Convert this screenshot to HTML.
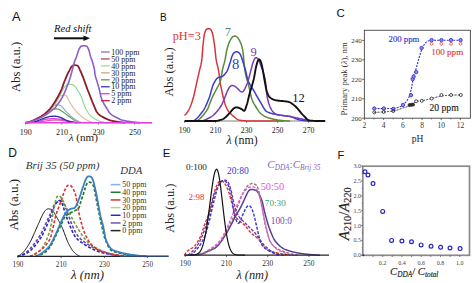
<!DOCTYPE html>
<html><head><meta charset="utf-8"><style>
html,body{margin:0;padding:0;background:#fff;}
svg{display:block;}
text{stroke-width:0;}
</style></head><body>
<svg width="474" height="283" viewBox="0 0 474 283">
<rect width="474" height="283" fill="#fff"/>
<line x1="54" y1="38.3" x2="85" y2="38.3" stroke="#111" stroke-width="2.0"/>
<path d="M83.5 35.6 L90 38.3 L83.5 41 Z" fill="#111"/>
<line x1="25.5" y1="122.7" x2="25.5" y2="124.5" stroke="#444" stroke-width="0.8"/>
<text x="25.7" y="135.1" font-family="Liberation Serif" font-size="8" fill="#222" stroke="#222" text-anchor="middle" font-weight="normal" >190</text>
<line x1="61.9" y1="122.7" x2="61.9" y2="124.5" stroke="#444" stroke-width="0.8"/>
<text x="62.1" y="135.1" font-family="Liberation Serif" font-size="8" fill="#222" stroke="#222" text-anchor="middle" font-weight="normal" >210</text>
<line x1="98.3" y1="122.7" x2="98.3" y2="124.5" stroke="#444" stroke-width="0.8"/>
<text x="98.5" y="135.1" font-family="Liberation Serif" font-size="8" fill="#222" stroke="#222" text-anchor="middle" font-weight="normal" >230</text>
<line x1="134.7" y1="122.7" x2="134.7" y2="124.5" stroke="#444" stroke-width="0.8"/>
<text x="134.89999999999998" y="135.1" font-family="Liberation Serif" font-size="8" fill="#222" stroke="#222" text-anchor="middle" font-weight="normal" >250</text>
<path d="M25.50 122.70 L26.00 122.69 L26.50 122.68 L27.00 122.67 L27.50 122.65 L28.00 122.63 L28.50 122.61 L29.00 122.59 L29.50 122.57 L30.00 122.54 L30.50 122.52 L31.00 122.49 L31.50 122.46 L32.00 122.43 L32.50 122.40 L33.00 122.36 L33.50 122.33 L34.00 122.29 L34.50 122.26 L35.00 122.22 L35.50 122.18 L36.00 122.14 L36.50 122.10 L37.00 122.06 L37.50 122.02 L38.00 121.97 L38.50 121.93 L39.00 121.89 L39.50 121.84 L40.00 121.80 L40.50 121.75 L41.00 121.70 L41.50 121.64 L42.00 121.57 L42.50 121.50 L43.00 121.42 L43.50 121.35 L44.00 121.26 L44.50 121.18 L45.00 121.10 L45.50 121.02 L46.00 120.93 L46.50 120.85 L47.00 120.78 L47.50 120.70 L48.00 120.63 L48.50 120.56 L49.00 120.50 L49.50 120.45 L50.00 120.40 L50.50 120.36 L51.00 120.31 L51.50 120.26 L52.00 120.22 L52.50 120.17 L53.00 120.13 L53.50 120.10 L54.00 120.06 L54.50 120.04 L55.00 120.02 L55.50 120.00 L56.00 120.00 L56.50 120.01 L57.00 120.02 L57.50 120.04 L58.00 120.08 L58.50 120.12 L59.00 120.16 L59.50 120.22 L60.00 120.27 L60.50 120.33 L61.00 120.40 L61.50 120.46 L62.00 120.53 L62.50 120.60 L63.00 120.67 L63.50 120.74 L64.00 120.80 L64.50 120.87 L65.00 120.95 L65.50 121.03 L66.00 121.13 L66.50 121.23 L67.00 121.33 L67.50 121.43 L68.00 121.54 L68.50 121.64 L69.00 121.74 L69.50 121.83 L70.00 121.93 L70.50 122.01 L71.00 122.08 L71.50 122.15 L72.00 122.20 L72.50 122.25 L73.00 122.29 L73.50 122.34 L74.00 122.38 L74.50 122.42 L75.00 122.47 L75.50 122.51 L76.00 122.54 L76.50 122.58 L77.00 122.61 L77.50 122.63 L78.00 122.66 L78.50 122.67 L79.00 122.69 L79.50 122.70 L80.00 122.70 L80.50 122.70 L81.00 122.70 L81.50 122.70 L82.00 122.70 L82.50 122.70 L83.00 122.70 L83.50 122.70 L84.00 122.70 L84.50 122.70 L85.00 122.70 L85.50 122.70 L86.00 122.70 L86.50 122.70 L87.00 122.70 L87.50 122.70 L88.00 122.70 L88.50 122.70 L89.00 122.70 L89.50 122.70 L90.00 122.70 L90.50 122.70 L91.00 122.70 L91.50 122.70 L92.00 122.70 L92.50 122.70 L93.00 122.70 L93.50 122.70 L94.00 122.70 L94.50 122.70 L95.00 122.70 L95.50 122.70 L96.00 122.70 L96.50 122.70 L97.00 122.70 L97.50 122.70 L98.00 122.70 L98.50 122.70 L99.00 122.70 L99.50 122.70 L100.00 122.70 L100.50 122.70 L101.00 122.70 L101.50 122.70 L102.00 122.70 L102.50 122.70 L103.00 122.70 L103.50 122.70 L104.00 122.70 L104.50 122.70 L105.00 122.70 L105.50 122.70 L106.00 122.70 L106.50 122.70 L107.00 122.70 L107.50 122.70 L108.00 122.70 L108.50 122.70 L109.00 122.70 L109.50 122.70 L110.00 122.70 L110.50 122.70 L111.00 122.70 L111.50 122.70 L112.00 122.70 L112.50 122.70 L113.00 122.70 L113.50 122.70 L114.00 122.70 L114.50 122.70 L115.00 122.70 L115.50 122.70 L116.00 122.70 L116.50 122.70 L117.00 122.70 L117.50 122.70 L118.00 122.70 L118.50 122.70 L119.00 122.70 L119.50 122.70 L120.00 122.70 L120.50 122.70 L121.00 122.70 L121.50 122.70 L122.00 122.70 L122.50 122.70 L123.00 122.70 L123.50 122.70 L124.00 122.70 L124.50 122.70 L125.00 122.70 L125.50 122.70 L126.00 122.70 L126.50 122.70 L127.00 122.70 L127.50 122.70 L128.00 122.70 L128.50 122.70 L129.00 122.70 L129.50 122.70 L130.00 122.70 L130.50 122.70 L131.00 122.70 L131.50 122.70 L132.00 122.70 L132.50 122.70 L133.00 122.70 L133.50 122.70 L134.00 122.70 L134.50 122.70 L135.00 122.70 L135.50 122.70 L136.00 122.70 L136.50 122.70 L137.00 122.70 L137.50 122.70 L138.00 122.70 L138.50 122.70 L139.00 122.70 L139.50 122.70 L140.00 122.70 L140.50 122.70 L141.00 122.70 L141.50 122.70 L142.00 122.70 L142.50 122.70 L143.00 122.70 L143.50 122.70 L144.00 122.70 L144.50 122.70 L145.00 122.70 L145.50 122.70 L146.00 122.70 L146.50 122.70 L147.00 122.70 L147.50 122.70 L148.00 122.70 L148.50 122.70 L149.00 122.70 L149.50 122.70 L150.00 122.70 L150.50 122.70 L151.00 122.70 L151.50 122.70 L152.00 122.70" fill="none" stroke="#e860a0" stroke-width="1.3" stroke-linejoin="round" />
<path d="M25.50 122.70 L26.00 122.70 L26.50 122.69 L27.00 122.68 L27.50 122.66 L28.00 122.64 L28.50 122.61 L29.00 122.58 L29.50 122.54 L30.00 122.50 L30.50 122.46 L31.00 122.41 L31.50 122.36 L32.00 122.31 L32.50 122.25 L33.00 122.20 L33.50 122.13 L34.00 122.07 L34.50 122.00 L35.00 121.94 L35.50 121.87 L36.00 121.80 L36.50 121.72 L37.00 121.65 L37.50 121.58 L38.00 121.50 L38.50 121.41 L39.00 121.30 L39.50 121.17 L40.00 121.02 L40.50 120.86 L41.00 120.68 L41.50 120.51 L42.00 120.33 L42.50 120.15 L43.00 119.97 L43.50 119.80 L44.00 119.65 L44.50 119.51 L45.00 119.38 L45.50 119.28 L46.00 119.20 L46.50 119.13 L47.00 119.06 L47.50 118.99 L48.00 118.93 L48.50 118.88 L49.00 118.83 L49.50 118.79 L50.00 118.76 L50.50 118.74 L51.00 118.72 L51.50 118.71 L52.00 118.70 L52.50 118.70 L53.00 118.71 L53.50 118.72 L54.00 118.74 L54.50 118.75 L55.00 118.77 L55.50 118.80 L56.00 118.83 L56.50 118.87 L57.00 118.90 L57.50 118.94 L58.00 118.98 L58.50 119.03 L59.00 119.08 L59.50 119.14 L60.00 119.20 L60.50 119.27 L61.00 119.35 L61.50 119.44 L62.00 119.54 L62.50 119.64 L63.00 119.76 L63.50 119.87 L64.00 119.99 L64.50 120.12 L65.00 120.25 L65.50 120.38 L66.00 120.50 L66.50 120.63 L67.00 120.76 L67.50 120.88 L68.00 121.00 L68.50 121.12 L69.00 121.24 L69.50 121.35 L70.00 121.47 L70.50 121.59 L71.00 121.71 L71.50 121.83 L72.00 121.96 L72.50 122.08 L73.00 122.20 L73.50 122.33 L74.00 122.45 L74.50 122.57 L75.00 122.70" fill="none" stroke="#e040e0" stroke-width="1.3" stroke-linejoin="round" />
<path d="M25.50 122.70 L26.00 122.70 L26.50 122.68 L27.00 122.66 L27.50 122.63 L28.00 122.59 L28.50 122.54 L29.00 122.49 L29.50 122.43 L30.00 122.36 L30.50 122.29 L31.00 122.22 L31.50 122.14 L32.00 122.05 L32.50 121.97 L33.00 121.88 L33.50 121.78 L34.00 121.69 L34.50 121.60 L35.00 121.50 L35.50 121.39 L36.00 121.26 L36.50 121.12 L37.00 120.96 L37.50 120.78 L38.00 120.59 L38.50 120.40 L39.00 120.19 L39.50 119.99 L40.00 119.78 L40.50 119.58 L41.00 119.38 L41.50 119.18 L42.00 119.00 L42.50 118.82 L43.00 118.63 L43.50 118.45 L44.00 118.26 L44.50 118.08 L45.00 117.90 L45.50 117.73 L46.00 117.56 L46.50 117.41 L47.00 117.24 L47.50 117.08 L48.00 116.92 L48.50 116.78 L49.00 116.65 L49.50 116.55 L50.00 116.47 L50.50 116.41 L51.00 116.35 L51.50 116.31 L52.00 116.28 L52.50 116.25 L53.00 116.23 L53.50 116.21 L54.00 116.20 L54.50 116.20 L55.00 116.23 L55.50 116.26 L56.00 116.31 L56.50 116.38 L57.00 116.47 L57.50 116.57 L58.00 116.69 L58.50 116.82 L59.00 116.97 L59.50 117.12 L60.00 117.29 L60.50 117.46 L61.00 117.64 L61.50 117.84 L62.00 118.07 L62.50 118.32 L63.00 118.59 L63.50 118.87 L64.00 119.15 L64.50 119.44 L65.00 119.71 L65.50 119.97 L66.00 120.21 L66.50 120.42 L67.00 120.61 L67.50 120.78 L68.00 120.96 L68.50 121.12 L69.00 121.28 L69.50 121.42 L70.00 121.56 L70.50 121.69 L71.00 121.81 L71.50 121.91 L72.00 122.00 L72.50 122.08 L73.00 122.16 L73.50 122.24 L74.00 122.32 L74.50 122.39 L75.00 122.45 L75.50 122.51 L76.00 122.57 L76.50 122.61 L77.00 122.65 L77.50 122.68 L78.00 122.70" fill="none" stroke="#2a2aa8" stroke-width="1.3" stroke-linejoin="round" />
<path d="M25.50 122.70 L26.00 122.68 L26.50 122.64 L27.00 122.58 L27.50 122.51 L28.00 122.43 L28.50 122.33 L29.00 122.23 L29.50 122.12 L30.00 122.00 L30.50 121.88 L31.00 121.75 L31.50 121.62 L32.00 121.45 L32.50 121.26 L33.00 121.04 L33.50 120.81 L34.00 120.57 L34.50 120.33 L35.00 120.10 L35.50 119.87 L36.00 119.64 L36.50 119.41 L37.00 119.18 L37.50 118.94 L38.00 118.69 L38.50 118.45 L39.00 118.19 L39.50 117.93 L40.00 117.67 L40.50 117.39 L41.00 117.11 L41.50 116.82 L42.00 116.52 L42.50 116.21 L43.00 115.89 L43.50 115.56 L44.00 115.21 L44.50 114.86 L45.00 114.51 L45.50 114.15 L46.00 113.77 L46.50 113.35 L47.00 112.90 L47.50 112.44 L48.00 111.97 L48.50 111.53 L49.00 111.13 L49.50 110.78 L50.00 110.50 L50.50 110.28 L51.00 110.08 L51.50 109.90 L52.00 109.74 L52.50 109.59 L53.00 109.44 L53.50 109.30 L54.00 109.15 L54.50 109.05 L55.00 108.98 L55.50 108.92 L56.00 108.90 L56.50 108.92 L57.00 108.98 L57.50 109.05 L58.00 109.15 L58.50 109.30 L59.00 109.50 L59.50 109.74 L60.00 110.03 L60.50 110.34 L61.00 110.65 L61.50 110.96 L62.00 111.28 L62.50 111.60 L63.00 111.94 L63.50 112.29 L64.00 112.65 L64.50 113.01 L65.00 113.38 L65.50 113.75 L66.00 114.13 L66.50 114.50 L67.00 114.88 L67.50 115.25 L68.00 115.62 L68.50 115.98 L69.00 116.34 L69.50 116.71 L70.00 117.09 L70.50 117.48 L71.00 117.86 L71.50 118.24 L72.00 118.61 L72.50 118.97 L73.00 119.32 L73.50 119.64 L74.00 119.94 L74.50 120.22 L75.00 120.49 L75.50 120.76 L76.00 121.02 L76.50 121.26 L77.00 121.50 L77.50 121.73 L78.00 121.95 L78.50 122.16 L79.00 122.35 L79.50 122.53 L80.00 122.70" fill="none" stroke="#5f9f4f" stroke-width="1.2" stroke-linejoin="round" />
<path d="M25.50 122.70 L26.00 122.68 L26.50 122.64 L27.00 122.58 L27.50 122.51 L28.00 122.43 L28.50 122.33 L29.00 122.23 L29.50 122.12 L30.00 122.00 L30.50 121.88 L31.00 121.75 L31.50 121.62 L32.00 121.45 L32.50 121.26 L33.00 121.04 L33.50 120.81 L34.00 120.57 L34.50 120.33 L35.00 120.10 L35.50 119.87 L36.00 119.64 L36.50 119.41 L37.00 119.18 L37.50 118.94 L38.00 118.69 L38.50 118.45 L39.00 118.19 L39.50 117.93 L40.00 117.67 L40.50 117.39 L41.00 117.11 L41.50 116.83 L42.00 116.53 L42.50 116.22 L43.00 115.90 L43.50 115.58 L44.00 115.24 L44.50 114.89 L45.00 114.53 L45.50 114.15 L46.00 113.77 L46.50 113.38 L47.00 112.98 L47.50 112.57 L48.00 112.14 L48.50 111.69 L49.00 111.20 L49.50 110.68 L50.00 110.12 L50.50 109.42 L51.00 108.50 L51.50 107.53 L52.00 106.71 L52.50 106.20 L53.00 105.94 L53.50 105.72 L54.00 105.54 L54.50 105.39 L55.00 105.28 L55.50 105.20 L56.00 105.14 L56.50 105.08 L57.00 105.04 L57.50 105.01 L58.00 105.00 L58.50 105.03 L59.00 105.11 L59.50 105.21 L60.00 105.37 L60.50 105.60 L61.00 105.90 L61.50 106.29 L62.00 106.76 L62.50 107.29 L63.00 107.86 L63.50 108.46 L64.00 109.07 L64.50 109.67 L65.00 110.25 L65.50 110.80 L66.00 111.31 L66.50 111.83 L67.00 112.36 L67.50 112.89 L68.00 113.41 L68.50 113.93 L69.00 114.44 L69.50 114.93 L70.00 115.40 L70.50 115.86 L71.00 116.28 L71.50 116.70 L72.00 117.10 L72.50 117.49 L73.00 117.87 L73.50 118.24 L74.00 118.60 L74.50 118.94 L75.00 119.27 L75.50 119.59 L76.00 119.89 L76.50 120.17 L77.00 120.44 L77.50 120.71 L78.00 120.97 L78.50 121.23 L79.00 121.47 L79.50 121.70 L80.00 121.93 L80.50 122.14 L81.00 122.34 L81.50 122.53 L82.00 122.70" fill="none" stroke="#90a8d8" stroke-width="1.2" stroke-linejoin="round" />
<path d="M25.50 122.70 L26.00 122.69 L26.50 122.65 L27.00 122.60 L27.50 122.54 L28.00 122.46 L28.50 122.38 L29.00 122.28 L29.50 122.17 L30.00 122.06 L30.50 121.94 L31.00 121.82 L31.50 121.70 L32.00 121.56 L32.50 121.38 L33.00 121.18 L33.50 120.95 L34.00 120.72 L34.50 120.48 L35.00 120.24 L35.50 120.01 L36.00 119.78 L36.50 119.55 L37.00 119.32 L37.50 119.08 L38.00 118.84 L38.50 118.60 L39.00 118.35 L39.50 118.09 L40.00 117.83 L40.50 117.56 L41.00 117.28 L41.50 117.00 L42.00 116.71 L42.50 116.41 L43.00 116.09 L43.50 115.77 L44.00 115.44 L44.50 115.10 L45.00 114.74 L45.50 114.38 L46.00 114.00 L46.50 113.61 L47.00 113.20 L47.50 112.78 L48.00 112.34 L48.50 111.88 L49.00 111.41 L49.50 110.92 L50.00 110.42 L50.50 109.89 L51.00 109.34 L51.50 108.76 L52.00 108.15 L52.50 107.52 L53.00 106.86 L53.50 106.19 L54.00 105.50 L54.50 104.79 L55.00 104.05 L55.50 103.28 L56.00 102.49 L56.50 101.68 L57.00 100.85 L57.50 100.00 L58.00 99.00 L58.50 97.88 L59.00 96.89 L59.50 96.30 L60.00 96.02 L60.50 95.79 L61.00 95.62 L61.50 95.49 L62.00 95.40 L62.50 95.34 L63.00 95.28 L63.50 95.24 L64.00 95.21 L64.50 95.20 L65.00 95.27 L65.50 95.43 L66.00 95.65 L66.50 96.01 L67.00 96.50 L67.50 97.32 L68.00 98.47 L68.50 99.68 L69.00 100.67 L69.50 101.58 L70.00 102.48 L70.50 103.34 L71.00 104.19 L71.50 105.00 L72.00 105.79 L72.50 106.56 L73.00 107.29 L73.50 108.00 L74.00 108.67 L74.50 109.31 L75.00 109.94 L75.50 110.55 L76.00 111.13 L76.50 111.70 L77.00 112.25 L77.50 112.77 L78.00 113.28 L78.50 113.77 L79.00 114.24 L79.50 114.69 L80.00 115.13 L80.50 115.55 L81.00 115.97 L81.50 116.38 L82.00 116.78 L82.50 117.17 L83.00 117.54 L83.50 117.91 L84.00 118.26 L84.50 118.60 L85.00 118.93 L85.50 119.25 L86.00 119.55 L86.50 119.83 L87.00 120.11 L87.50 120.37 L88.00 120.63 L88.50 120.88 L89.00 121.12 L89.50 121.36 L90.00 121.58 L90.50 121.79 L91.00 122.00 L91.50 122.19 L92.00 122.37 L92.50 122.54 L93.00 122.70" fill="none" stroke="#e8b9a0" stroke-width="1.2" stroke-linejoin="round" />
<path d="M25.50 122.70 L26.00 122.69 L26.50 122.65 L27.00 122.60 L27.50 122.54 L28.00 122.46 L28.50 122.38 L29.00 122.28 L29.50 122.17 L30.00 122.06 L30.50 121.94 L31.00 121.82 L31.50 121.70 L32.00 121.56 L32.50 121.38 L33.00 121.18 L33.50 120.95 L34.00 120.72 L34.50 120.48 L35.00 120.24 L35.50 120.01 L36.00 119.78 L36.50 119.55 L37.00 119.32 L37.50 119.08 L38.00 118.84 L38.50 118.60 L39.00 118.35 L39.50 118.09 L40.00 117.83 L40.50 117.56 L41.00 117.28 L41.50 117.00 L42.00 116.71 L42.50 116.41 L43.00 116.09 L43.50 115.77 L44.00 115.44 L44.50 115.10 L45.00 114.74 L45.50 114.38 L46.00 114.00 L46.50 113.61 L47.00 113.20 L47.50 112.78 L48.00 112.34 L48.50 111.88 L49.00 111.41 L49.50 110.92 L50.00 110.42 L50.50 109.89 L51.00 109.34 L51.50 108.76 L52.00 108.15 L52.50 107.52 L53.00 106.86 L53.50 106.19 L54.00 105.50 L54.50 104.79 L55.00 104.05 L55.50 103.28 L56.00 102.49 L56.50 101.68 L57.00 100.85 L57.50 100.00 L58.00 99.12 L58.50 98.20 L59.00 97.25 L59.50 96.27 L60.00 95.28 L60.50 94.28 L61.00 93.29 L61.50 92.30 L62.00 91.34 L62.50 90.40 L63.00 89.50 L63.50 88.59 L64.00 87.70 L64.50 87.00 L65.00 86.48 L65.50 86.04 L66.00 85.65 L66.50 85.31 L67.00 85.00 L67.50 84.75 L68.00 84.58 L68.50 84.44 L69.00 84.34 L69.50 84.30 L70.00 84.31 L70.50 84.34 L71.00 84.38 L71.50 84.43 L72.00 84.50 L72.50 84.63 L73.00 84.88 L73.50 85.21 L74.00 85.60 L74.50 86.04 L75.00 86.50 L75.50 87.05 L76.00 87.73 L76.50 88.51 L77.00 89.35 L77.50 90.19 L78.00 91.00 L78.50 91.76 L79.00 92.50 L79.50 93.27 L80.00 94.09 L80.50 95.00 L81.00 96.06 L81.50 97.28 L82.00 98.62 L82.50 100.04 L83.00 101.51 L83.50 102.99 L84.00 104.44 L84.50 105.82 L85.00 107.09 L85.50 108.21 L86.00 109.17 L86.50 110.06 L87.00 110.91 L87.50 111.73 L88.00 112.52 L88.50 113.25 L89.00 113.95 L89.50 114.59 L90.00 115.18 L90.50 115.72 L91.00 116.20 L91.50 116.63 L92.00 117.02 L92.50 117.38 L93.00 117.72 L93.50 118.03 L94.00 118.33 L94.50 118.62 L95.00 118.90 L95.50 119.18 L96.00 119.47 L96.50 119.75 L97.00 120.02 L97.50 120.29 L98.00 120.53 L98.50 120.76 L99.00 120.97 L99.50 121.15 L100.00 121.30 L100.50 121.43 L101.00 121.56 L101.50 121.69 L102.00 121.82 L102.50 121.94 L103.00 122.05 L103.50 122.16 L104.00 122.27 L104.50 122.36 L105.00 122.44 L105.50 122.52 L106.00 122.58 L106.50 122.63 L107.00 122.67 L107.50 122.69 L108.00 122.70" fill="none" stroke="#90d890" stroke-width="1.2" stroke-linejoin="round" />
<path d="M25.50 122.70 L26.00 122.63 L26.50 122.56 L27.00 122.46 L27.50 122.36 L28.00 122.24 L28.50 122.12 L29.00 121.98 L29.50 121.84 L30.00 121.70 L30.50 121.54 L31.00 121.35 L31.50 121.15 L32.00 120.93 L32.50 120.70 L33.00 120.47 L33.50 120.24 L34.00 120.01 L34.50 119.78 L35.00 119.55 L35.50 119.32 L36.00 119.08 L36.50 118.84 L37.00 118.60 L37.50 118.35 L38.00 118.09 L38.50 117.83 L39.00 117.56 L39.50 117.28 L40.00 117.00 L40.50 116.71 L41.00 116.41 L41.50 116.09 L42.00 115.77 L42.50 115.44 L43.00 115.10 L43.50 114.74 L44.00 114.38 L44.50 114.00 L45.00 113.61 L45.50 113.20 L46.00 112.78 L46.50 112.34 L47.00 111.88 L47.50 111.41 L48.00 110.92 L48.50 110.42 L49.00 109.89 L49.50 109.34 L50.00 108.76 L50.50 108.15 L51.00 107.52 L51.50 106.86 L52.00 106.19 L52.50 105.50 L53.00 104.79 L53.50 104.05 L54.00 103.28 L54.50 102.49 L55.00 101.68 L55.50 100.85 L56.00 100.00 L56.50 99.14 L57.00 98.28 L57.50 97.41 L58.00 96.53 L58.50 95.62 L59.00 94.69 L59.50 93.74 L60.00 92.74 L60.50 91.71 L61.00 90.63 L61.50 89.50 L62.00 88.24 L62.50 86.84 L63.00 85.37 L63.50 83.90 L64.00 82.51 L64.50 81.25 L65.00 80.02 L65.50 78.81 L66.00 77.62 L66.50 76.46 L67.00 75.33 L67.50 74.24 L68.00 73.19 L68.50 72.19 L69.00 71.24 L69.50 70.34 L70.00 69.39 L70.50 68.44 L71.00 67.53 L71.50 66.72 L72.00 66.09 L72.50 65.68 L73.00 65.51 L73.50 65.39 L74.00 65.29 L74.50 65.22 L75.00 65.20 L75.50 65.22 L76.00 65.28 L76.50 65.37 L77.00 65.49 L77.50 65.64 L78.00 66.08 L78.50 66.84 L79.00 67.83 L79.50 68.94 L80.00 70.06 L80.50 71.11 L81.00 72.21 L81.50 73.38 L82.00 74.61 L82.50 75.88 L83.00 77.18 L83.50 78.49 L84.00 79.80 L84.50 81.13 L85.00 82.50 L85.50 83.91 L86.00 85.32 L86.50 86.73 L87.00 88.12 L87.50 89.47 L88.00 90.77 L88.50 92.02 L89.00 93.25 L89.50 94.49 L90.00 95.77 L90.50 97.09 L91.00 98.41 L91.50 99.72 L92.00 101.00 L92.50 102.24 L93.00 103.47 L93.50 104.68 L94.00 105.86 L94.50 107.00 L95.00 108.16 L95.50 109.35 L96.00 110.48 L96.50 111.49 L97.00 112.30 L97.50 112.95 L98.00 113.52 L98.50 114.04 L99.00 114.50 L99.50 114.92 L100.00 115.30 L100.50 115.65 L101.00 115.98 L101.50 116.28 L102.00 116.57 L102.50 116.84 L103.00 117.10 L103.50 117.35 L104.00 117.60 L104.50 117.85 L105.00 118.10 L105.50 118.36 L106.00 118.60 L106.50 118.85 L107.00 119.08 L107.50 119.31 L108.00 119.53 L108.50 119.74 L109.00 119.94 L109.50 120.12 L110.00 120.28 L110.50 120.43 L111.00 120.56 L111.50 120.69 L112.00 120.81 L112.50 120.93 L113.00 121.04 L113.50 121.14 L114.00 121.24 L114.50 121.33 L115.00 121.42 L115.50 121.51 L116.00 121.59 L116.50 121.67 L117.00 121.75 L117.50 121.82 L118.00 121.90 L118.50 121.97 L119.00 122.04 L119.50 122.11 L120.00 122.18 L120.50 122.24 L121.00 122.30 L121.50 122.36 L122.00 122.42 L122.50 122.48 L123.00 122.53 L123.50 122.58 L124.00 122.62 L124.50 122.66 L125.00 122.70" fill="none" stroke="#8e1c26" stroke-width="1.8" stroke-linejoin="round" />
<path d="M25.50 122.70 L26.00 122.62 L26.50 122.53 L27.00 122.44 L27.50 122.34 L28.00 122.23 L28.50 122.12 L29.00 122.00 L29.50 121.87 L30.00 121.74 L30.50 121.60 L31.00 121.46 L31.50 121.32 L32.00 121.17 L32.50 121.01 L33.00 120.86 L33.50 120.70 L34.00 120.53 L34.50 120.36 L35.00 120.18 L35.50 119.98 L36.00 119.78 L36.50 119.56 L37.00 119.34 L37.50 119.11 L38.00 118.88 L38.50 118.64 L39.00 118.39 L39.50 118.15 L40.00 117.90 L40.50 117.65 L41.00 117.40 L41.50 117.15 L42.00 116.89 L42.50 116.63 L43.00 116.36 L43.50 116.09 L44.00 115.81 L44.50 115.53 L45.00 115.24 L45.50 114.94 L46.00 114.64 L46.50 114.32 L47.00 114.00 L47.50 113.66 L48.00 113.31 L48.50 112.95 L49.00 112.57 L49.50 112.18 L50.00 111.79 L50.50 111.39 L51.00 110.99 L51.50 110.59 L52.00 110.20 L52.50 109.82 L53.00 109.46 L53.50 109.10 L54.00 108.71 L54.50 108.28 L55.00 107.80 L55.50 107.19 L56.00 106.47 L56.50 105.71 L57.00 105.00 L57.50 104.37 L58.00 103.77 L58.50 103.16 L59.00 102.50 L59.50 101.79 L60.00 101.05 L60.50 100.29 L61.00 99.49 L61.50 98.67 L62.00 97.81 L62.50 96.91 L63.00 95.98 L63.50 95.00 L64.00 93.94 L64.50 92.77 L65.00 91.54 L65.50 90.27 L66.00 89.00 L66.50 87.74 L67.00 86.49 L67.50 85.23 L68.00 83.94 L68.50 82.62 L69.00 81.25 L69.50 79.82 L70.00 78.31 L70.50 76.68 L71.00 74.90 L71.50 73.03 L72.00 71.13 L72.50 69.24 L73.00 67.24 L73.50 65.22 L74.00 63.33 L74.50 61.70 L75.00 60.34 L75.50 59.12 L76.00 57.96 L76.50 56.73 L77.00 55.33 L77.50 53.71 L78.00 52.05 L78.50 50.52 L79.00 49.29 L79.50 48.38 L80.00 47.53 L80.50 46.82 L81.00 46.34 L81.50 46.15 L82.00 46.03 L82.50 45.93 L83.00 45.86 L83.50 45.82 L84.00 45.80 L84.50 45.82 L85.00 45.86 L85.50 45.94 L86.00 46.04 L86.50 46.17 L87.00 46.46 L87.50 47.13 L88.00 48.05 L88.50 49.10 L89.00 50.51 L89.50 52.38 L90.00 54.39 L90.50 56.20 L91.00 57.69 L91.50 59.06 L92.00 60.45 L92.50 62.00 L93.00 63.65 L93.50 65.40 L94.00 67.44 L94.50 70.00 L95.00 74.36 L95.50 76.70 L96.00 78.23 L96.50 79.67 L97.00 81.37 L97.50 83.10 L98.00 84.84 L98.50 86.63 L99.00 88.47 L99.50 90.40 L100.00 92.60 L100.50 94.91 L101.00 97.00 L101.50 98.57 L102.00 99.85 L102.50 100.97 L103.00 101.98 L103.50 102.93 L104.00 103.87 L104.50 104.77 L105.00 105.62 L105.50 106.43 L106.00 107.22 L106.50 108.00 L107.00 108.80 L107.50 109.63 L108.00 110.45 L108.50 111.25 L109.00 112.01 L109.50 112.70 L110.00 113.30 L110.50 113.79 L111.00 114.21 L111.50 114.61 L112.00 114.97 L112.50 115.31 L113.00 115.63 L113.50 115.92 L114.00 116.21 L114.50 116.48 L115.00 116.74 L115.50 116.99 L116.00 117.24 L116.50 117.50 L117.00 117.75 L117.50 118.01 L118.00 118.27 L118.50 118.53 L119.00 118.78 L119.50 119.02 L120.00 119.26 L120.50 119.48 L121.00 119.70 L121.50 119.89 L122.00 120.07 L122.50 120.24 L123.00 120.37 L123.50 120.50 L124.00 120.61 L124.50 120.72 L125.00 120.82 L125.50 120.91 L126.00 121.00 L126.50 121.09 L127.00 121.17 L127.50 121.24 L128.00 121.32 L128.50 121.39 L129.00 121.46 L129.50 121.53 L130.00 121.59 L130.50 121.66 L131.00 121.73 L131.50 121.79 L132.00 121.86 L132.50 121.92 L133.00 121.98 L133.50 122.04 L134.00 122.10 L134.50 122.16 L135.00 122.22 L135.50 122.28 L136.00 122.33 L136.50 122.38 L137.00 122.43 L137.50 122.48 L138.00 122.53 L138.50 122.58 L139.00 122.62 L139.50 122.66 L140.00 122.70" fill="none" stroke="#8a5ecb" stroke-width="1.6" stroke-linejoin="round" />
<line x1="25.5" y1="122.7" x2="152" y2="122.7" stroke="#e040e0" stroke-width="1.6"/>
<line x1="101" y1="52.0" x2="109.7" y2="52.0" stroke="#8a70c0" stroke-width="1.3"/>
<text x="111.3" y="54.7" font-family="Liberation Serif" font-size="8" fill="#222" stroke="#222" text-anchor="start" font-weight="normal" >100 ppm</text>
<line x1="101" y1="58.95" x2="109.7" y2="58.95" stroke="#c04058" stroke-width="1.3"/>
<text x="111.3" y="61.650000000000006" font-family="Liberation Serif" font-size="8" fill="#222" stroke="#222" text-anchor="start" font-weight="normal" >50 ppm</text>
<line x1="101" y1="65.9" x2="109.7" y2="65.9" stroke="#a0dca0" stroke-width="1.3"/>
<text x="111.3" y="68.60000000000001" font-family="Liberation Serif" font-size="8" fill="#222" stroke="#222" text-anchor="start" font-weight="normal" >40 ppm</text>
<line x1="101" y1="72.85" x2="109.7" y2="72.85" stroke="#d0a878" stroke-width="1.3"/>
<text x="111.3" y="75.55" font-family="Liberation Serif" font-size="8" fill="#222" stroke="#222" text-anchor="start" font-weight="normal" >30 ppm</text>
<line x1="101" y1="79.8" x2="109.7" y2="79.8" stroke="#60a050" stroke-width="1.3"/>
<text x="111.3" y="82.5" font-family="Liberation Serif" font-size="8" fill="#222" stroke="#222" text-anchor="start" font-weight="normal" >20 ppm</text>
<line x1="101" y1="86.75" x2="109.7" y2="86.75" stroke="#3038c0" stroke-width="1.3"/>
<text x="111.3" y="89.45" font-family="Liberation Serif" font-size="8" fill="#222" stroke="#222" text-anchor="start" font-weight="normal" >10 ppm</text>
<line x1="101" y1="93.7" x2="109.7" y2="93.7" stroke="#e040e0" stroke-width="1.3"/>
<text x="111.3" y="96.4" font-family="Liberation Serif" font-size="8" fill="#222" stroke="#222" text-anchor="start" font-weight="normal" >5 ppm</text>
<line x1="101" y1="100.65" x2="109.7" y2="100.65" stroke="#d02848" stroke-width="1.3"/>
<text x="111.3" y="103.35000000000001" font-family="Liberation Serif" font-size="8" fill="#222" stroke="#222" text-anchor="start" font-weight="normal" >2 ppm</text>
<line x1="184.6" y1="121" x2="325.2" y2="121" stroke="#7a8a7a" stroke-width="1.1"/>
<line x1="184.6" y1="121" x2="184.6" y2="122.8" stroke="#444" stroke-width="0.8"/>
<text x="184.6" y="132.5" font-family="Liberation Serif" font-size="7.8" fill="#222" stroke="#222" text-anchor="middle" font-weight="normal" >190</text>
<line x1="215.6" y1="121" x2="215.6" y2="122.8" stroke="#444" stroke-width="0.8"/>
<text x="215.6" y="132.5" font-family="Liberation Serif" font-size="7.8" fill="#222" stroke="#222" text-anchor="middle" font-weight="normal" >210</text>
<line x1="246.6" y1="121" x2="246.6" y2="122.8" stroke="#444" stroke-width="0.8"/>
<text x="246.6" y="132.5" font-family="Liberation Serif" font-size="7.8" fill="#222" stroke="#222" text-anchor="middle" font-weight="normal" >230</text>
<line x1="277.6" y1="121" x2="277.6" y2="122.8" stroke="#444" stroke-width="0.8"/>
<text x="277.6" y="132.5" font-family="Liberation Serif" font-size="7.8" fill="#222" stroke="#222" text-anchor="middle" font-weight="normal" >250</text>
<line x1="308.6" y1="121" x2="308.6" y2="122.8" stroke="#444" stroke-width="0.8"/>
<text x="308.6" y="132.5" font-family="Liberation Serif" font-size="7.8" fill="#222" stroke="#222" text-anchor="middle" font-weight="normal" >270</text>
<path d="M184.50 115.30 L185.00 114.97 L185.50 114.54 L186.00 114.02 L186.50 113.41 L187.00 112.74 L187.50 111.99 L188.00 111.20 L188.50 110.37 L189.00 109.50 L189.50 108.55 L190.00 107.45 L190.50 106.23 L191.00 104.90 L191.50 103.47 L192.00 101.95 L192.50 100.36 L193.00 98.71 L193.50 97.00 L194.00 95.09 L194.50 92.98 L195.00 90.74 L195.50 88.40 L196.00 86.02 L196.50 83.65 L197.00 81.34 L197.50 79.13 L198.00 76.96 L198.50 74.80 L199.00 72.64 L199.50 70.44 L200.00 68.35 L200.50 66.47 L201.00 64.45 L201.50 61.91 L202.00 58.17 L202.50 51.34 L203.00 45.00 L203.50 40.56 L204.00 36.64 L204.50 33.66 L205.00 31.93 L205.50 30.71 L206.00 29.81 L206.50 29.30 L207.00 29.02 L207.50 28.80 L208.00 28.65 L208.50 28.60 L209.00 28.65 L209.50 28.80 L210.00 29.02 L210.50 29.30 L211.00 29.83 L211.50 30.76 L212.00 31.96 L212.50 33.47 L213.00 35.68 L213.50 38.46 L214.00 41.63 L214.50 45.00 L215.00 49.21 L215.50 54.18 L216.00 58.64 L216.50 61.63 L217.00 63.83 L217.50 65.71 L218.00 67.64 L218.50 70.00 L219.00 73.18 L219.50 76.97 L220.00 80.81 L220.50 84.14 L221.00 86.80 L221.50 89.33 L222.00 91.75 L222.50 94.05 L223.00 96.23 L223.50 98.29 L224.00 100.21 L224.50 102.00 L225.00 103.65 L225.50 105.15 L226.00 106.50 L226.50 107.70 L227.00 108.77 L227.50 109.70 L228.00 110.50 L228.50 111.21 L229.00 111.86 L229.50 112.47 L230.00 113.04 L230.50 113.57 L231.00 114.07 L231.50 114.54 L232.00 114.99 L232.50 115.42 L233.00 115.83 L233.50 116.26 L234.00 116.68 L234.50 117.11 L235.00 117.53 L235.50 117.93 L236.00 118.32 L236.50 118.69 L237.00 119.03 L237.50 119.35 L238.00 119.62 L238.50 119.86 L239.00 120.06 L239.50 120.21 L240.00 120.30 L240.50 120.36 L241.00 120.43 L241.50 120.49 L242.00 120.54 L242.50 120.59 L243.00 120.64 L243.50 120.69 L244.00 120.74 L244.50 120.78 L245.00 120.81 L245.50 120.85 L246.00 120.88 L246.50 120.91 L247.00 120.93 L247.50 120.95 L248.00 120.97 L248.50 120.98 L249.00 120.99 L249.50 121.00 L250.00 121.00 L250.50 121.00 L251.00 121.00 L251.50 121.00 L252.00 121.00 L252.50 121.00 L253.00 121.00 L253.50 121.00 L254.00 121.00 L254.50 121.00 L255.00 121.00 L255.50 121.00 L256.00 121.00 L256.50 121.00 L257.00 121.00 L257.50 121.00 L258.00 121.00 L258.50 121.00 L259.00 121.00 L259.50 121.00 L260.00 121.00 L260.50 121.00 L261.00 121.00 L261.50 121.00 L262.00 121.00 L262.50 121.00 L263.00 121.00 L263.50 121.00 L264.00 121.00 L264.50 121.00 L265.00 121.00 L265.50 121.00 L266.00 121.00 L266.50 121.00 L267.00 121.00 L267.50 121.00 L268.00 121.00 L268.50 121.00 L269.00 121.00 L269.50 121.00 L270.00 121.00 L270.50 121.00 L271.00 121.00 L271.50 121.00 L272.00 121.00 L272.50 121.00 L273.00 121.00 L273.50 121.00 L274.00 121.00 L274.50 121.00 L275.00 121.00 L275.50 121.00 L276.00 121.00 L276.50 121.00 L277.00 121.00 L277.50 121.00 L278.00 121.00 L278.50 121.00 L279.00 121.00 L279.50 121.00 L280.00 121.00 L280.50 121.00 L281.00 121.00 L281.50 121.00 L282.00 121.00 L282.50 121.00 L283.00 121.00 L283.50 121.00 L284.00 121.00" fill="none" stroke="#d8343c" stroke-width="1.5" stroke-linejoin="round" />
<path d="M195.00 121.00 L195.50 120.97 L196.00 120.89 L196.50 120.76 L197.00 120.58 L197.50 120.35 L198.00 120.08 L198.50 119.76 L199.00 119.41 L199.50 119.02 L200.00 118.59 L200.50 118.13 L201.00 117.64 L201.50 117.12 L202.00 116.58 L202.50 116.01 L203.00 115.42 L203.50 114.82 L204.00 114.19 L204.50 113.55 L205.00 112.90 L205.50 112.24 L206.00 111.57 L206.50 110.90 L207.00 110.13 L207.50 109.19 L208.00 108.11 L208.50 106.92 L209.00 105.66 L209.50 104.34 L210.00 102.99 L210.50 101.66 L211.00 100.36 L211.50 99.13 L212.00 98.00 L212.50 96.95 L213.00 95.93 L213.50 94.93 L214.00 93.96 L214.50 92.98 L215.00 92.01 L215.50 91.01 L216.00 90.00 L216.50 89.02 L217.00 88.12 L217.50 87.26 L218.00 86.40 L218.50 85.49 L219.00 84.51 L219.50 83.40 L220.00 82.13 L220.50 80.65 L221.00 78.70 L221.50 75.63 L222.00 72.26 L222.50 69.54 L223.00 67.46 L223.50 65.65 L224.00 63.92 L224.50 62.10 L225.00 60.00 L225.50 57.30 L226.00 54.21 L226.50 51.35 L227.00 49.24 L227.50 47.47 L228.00 45.85 L228.50 44.37 L229.00 43.04 L229.50 41.84 L230.00 40.77 L230.50 39.82 L231.00 38.93 L231.50 38.12 L232.00 37.46 L232.50 37.00 L233.00 36.67 L233.50 36.38 L234.00 36.16 L234.50 36.02 L235.00 36.01 L235.50 36.14 L236.00 36.37 L236.50 36.66 L237.00 37.00 L237.50 37.44 L238.00 38.05 L238.50 38.80 L239.00 39.64 L239.50 40.55 L240.00 41.51 L240.50 42.59 L241.00 43.83 L241.50 45.29 L242.00 47.02 L242.50 49.07 L243.00 52.02 L243.50 56.95 L244.00 62.06 L244.50 67.52 L245.00 71.21 L245.50 73.86 L246.00 76.09 L246.50 78.00 L247.00 79.73 L247.50 81.38 L248.00 83.06 L248.50 84.90 L249.00 86.97 L249.50 89.18 L250.00 91.45 L250.50 93.69 L251.00 95.84 L251.50 97.80 L252.00 99.49 L252.50 100.84 L253.00 101.97 L253.50 102.96 L254.00 103.85 L254.50 104.68 L255.00 105.45 L255.50 106.22 L256.00 107.00 L256.50 107.80 L257.00 108.61 L257.50 109.41 L258.00 110.19 L258.50 110.93 L259.00 111.62 L259.50 112.25 L260.00 112.80 L260.50 113.29 L261.00 113.75 L261.50 114.18 L262.00 114.59 L262.50 114.98 L263.00 115.34 L263.50 115.67 L264.00 115.97 L264.50 116.25 L265.00 116.50 L265.50 116.73 L266.00 116.94 L266.50 117.15 L267.00 117.34 L267.50 117.52 L268.00 117.70 L268.50 117.86 L269.00 118.02 L269.50 118.17 L270.00 118.31 L270.50 118.45 L271.00 118.58 L271.50 118.70 L272.00 118.82 L272.50 118.94 L273.00 119.06 L273.50 119.17 L274.00 119.29 L274.50 119.39 L275.00 119.50 L275.50 119.60 L276.00 119.70 L276.50 119.79 L277.00 119.88 L277.50 119.96 L278.00 120.04 L278.50 120.12 L279.00 120.18 L279.50 120.25 L280.00 120.30 L280.50 120.35 L281.00 120.40 L281.50 120.45 L282.00 120.50 L282.50 120.55 L283.00 120.60 L283.50 120.64 L284.00 120.69 L284.50 120.73 L285.00 120.77 L285.50 120.81 L286.00 120.84 L286.50 120.88 L287.00 120.90 L287.50 120.93 L288.00 120.95 L288.50 120.97 L289.00 120.98 L289.50 120.99 L290.00 121.00" fill="none" stroke="#5a8a3a" stroke-width="1.5" stroke-linejoin="round" />
<path d="M192.40 121.00 L192.90 120.87 L193.40 120.69 L193.90 120.47 L194.40 120.20 L194.90 119.89 L195.40 119.54 L195.90 119.15 L196.40 118.72 L196.90 118.27 L197.40 117.78 L197.90 117.27 L198.40 116.72 L198.90 116.16 L199.40 115.57 L199.90 114.96 L200.40 114.34 L200.90 113.70 L201.40 113.05 L201.90 112.39 L202.40 111.71 L202.90 111.04 L203.40 110.33 L203.90 109.54 L204.40 108.67 L204.90 107.74 L205.40 106.74 L205.90 105.68 L206.40 104.58 L206.90 103.42 L207.40 102.23 L207.90 101.00 L208.40 99.75 L208.90 98.47 L209.40 97.16 L209.90 95.65 L210.40 93.95 L210.90 92.16 L211.40 90.33 L211.90 88.54 L212.40 86.88 L212.90 85.41 L213.40 84.20 L213.90 83.23 L214.40 82.29 L214.90 81.40 L215.40 80.57 L215.90 79.81 L216.40 79.13 L216.90 78.56 L217.40 78.09 L217.90 77.75 L218.40 77.52 L218.90 77.35 L219.40 77.22 L219.90 77.11 L220.40 77.00 L220.90 76.88 L221.40 76.73 L221.90 76.54 L222.40 76.29 L222.90 75.98 L223.40 75.60 L223.90 75.15 L224.40 74.65 L224.90 74.09 L225.40 73.48 L225.90 72.81 L226.40 72.10 L226.90 71.34 L227.40 70.38 L227.90 69.19 L228.40 67.83 L228.90 66.35 L229.40 64.82 L229.90 63.30 L230.40 61.69 L230.90 59.86 L231.40 58.04 L231.90 56.49 L232.40 55.34 L232.90 54.31 L233.40 53.45 L233.90 52.87 L234.40 52.54 L234.90 52.26 L235.40 52.03 L235.90 51.87 L236.40 51.80 L236.90 51.83 L237.40 51.96 L237.90 52.16 L238.40 52.43 L238.90 52.74 L239.40 53.17 L239.90 53.87 L240.40 54.78 L240.90 55.79 L241.40 56.96 L241.90 58.42 L242.40 60.04 L242.90 61.68 L243.40 63.27 L243.90 64.88 L244.40 66.53 L244.90 68.23 L245.40 70.00 L245.90 71.97 L246.40 74.16 L246.90 76.35 L247.40 78.37 L247.90 80.03 L248.40 81.29 L248.90 82.43 L249.40 83.46 L249.90 84.41 L250.40 85.29 L250.90 86.11 L251.40 86.89 L251.90 87.66 L252.40 88.42 L252.90 89.19 L253.40 89.98 L253.90 90.82 L254.40 91.71 L254.90 92.60 L255.40 93.50 L255.90 94.39 L256.40 95.29 L256.90 96.18 L257.40 97.06 L257.90 97.93 L258.40 98.78 L258.90 99.62 L259.40 100.44 L259.90 101.26 L260.40 102.11 L260.90 102.99 L261.40 103.89 L261.90 104.80 L262.40 105.70 L262.90 106.58 L263.40 107.43 L263.90 108.25 L264.40 109.01 L264.90 109.72 L265.40 110.35 L265.90 110.90 L266.40 111.35 L266.90 111.69 L267.40 111.94 L267.90 112.17 L268.40 112.38 L268.90 112.58 L269.40 112.76 L269.90 112.94 L270.40 113.10 L270.90 113.26 L271.40 113.40 L271.90 113.54 L272.40 113.67 L272.90 113.79 L273.40 113.90 L273.90 114.01 L274.40 114.12 L274.90 114.22 L275.40 114.31 L275.90 114.41 L276.40 114.50 L276.90 114.60 L277.40 114.69 L277.90 114.78 L278.40 114.87 L278.90 114.96 L279.40 115.04 L279.90 115.12 L280.40 115.19 L280.90 115.25 L281.40 115.32 L281.90 115.38 L282.40 115.44 L282.90 115.50 L283.40 115.56 L283.90 115.61 L284.40 115.67 L284.90 115.73 L285.40 115.79 L285.90 115.85 L286.40 115.91 L286.90 115.98 L287.40 116.05 L287.90 116.13 L288.40 116.21 L288.90 116.29 L289.40 116.38 L289.90 116.48 L290.40 116.59 L290.90 116.72 L291.40 116.87 L291.90 117.04 L292.40 117.22 L292.90 117.42 L293.40 117.62 L293.90 117.83 L294.40 118.05 L294.90 118.27 L295.40 118.48 L295.90 118.70 L296.40 118.91 L296.90 119.11 L297.40 119.29 L297.90 119.47 L298.40 119.63 L298.90 119.77 L299.40 119.89 L299.90 119.98 L300.40 120.06 L300.90 120.14 L301.40 120.21 L301.90 120.29 L302.40 120.36 L302.90 120.43 L303.40 120.50 L303.90 120.56 L304.40 120.63 L304.90 120.68 L305.40 120.74 L305.90 120.79 L306.40 120.83 L306.90 120.87 L307.40 120.91 L307.90 120.94 L308.40 120.96 L308.90 120.98 L309.40 120.99 L309.90 121.00 L310.00 121.00" fill="none" stroke="#3a3ad0" stroke-width="1.5" stroke-linejoin="round" />
<path d="M200.00 121.00 L200.50 120.98 L201.00 120.93 L201.50 120.86 L202.00 120.77 L202.50 120.66 L203.00 120.54 L203.50 120.39 L204.00 120.23 L204.50 120.06 L205.00 119.87 L205.50 119.67 L206.00 119.46 L206.50 119.24 L207.00 119.01 L207.50 118.77 L208.00 118.52 L208.50 118.27 L209.00 118.02 L209.50 117.76 L210.00 117.50 L210.50 117.23 L211.00 116.93 L211.50 116.60 L212.00 116.25 L212.50 115.88 L213.00 115.48 L213.50 115.05 L214.00 114.61 L214.50 114.13 L215.00 113.64 L215.50 113.12 L216.00 112.58 L216.50 112.02 L217.00 111.44 L217.50 110.84 L218.00 110.21 L218.50 109.57 L219.00 108.90 L219.50 108.22 L220.00 107.52 L220.50 106.79 L221.00 106.03 L221.50 105.15 L222.00 104.16 L222.50 103.08 L223.00 101.93 L223.50 100.72 L224.00 99.48 L224.50 98.21 L225.00 96.95 L225.50 95.71 L226.00 94.50 L226.50 93.27 L227.00 92.03 L227.50 90.89 L228.00 89.82 L228.50 88.86 L229.00 88.00 L229.50 87.25 L230.00 86.64 L230.50 86.12 L231.00 85.81 L231.50 85.59 L232.00 85.50 L232.50 85.54 L233.00 85.63 L233.50 85.76 L234.00 85.91 L234.50 86.12 L235.00 86.41 L235.50 86.76 L236.00 87.12 L236.50 87.55 L237.00 88.00 L237.50 88.45 L238.00 88.96 L238.50 89.48 L239.00 90.01 L239.50 90.53 L240.00 91.00 L240.50 91.40 L241.00 91.72 L241.50 91.93 L242.00 92.00 L242.50 91.88 L243.00 91.52 L243.50 90.97 L244.00 90.25 L244.50 89.39 L245.00 88.42 L245.50 87.36 L246.00 86.26 L246.50 85.13 L247.00 84.00 L247.50 82.75 L248.00 81.25 L248.50 79.56 L249.00 77.73 L249.50 75.81 L250.00 73.85 L250.50 71.89 L251.00 70.00 L251.50 68.04 L252.00 66.02 L252.50 64.16 L253.00 62.56 L253.50 61.14 L254.00 59.99 L254.50 59.00 L255.00 58.35 L255.50 57.93 L256.00 57.71 L256.50 57.78 L257.00 58.05 L257.50 58.42 L258.00 58.98 L258.50 59.80 L259.00 60.73 L259.50 61.85 L260.00 63.15 L260.50 64.56 L261.00 66.00 L261.50 67.39 L262.00 68.73 L262.50 70.08 L263.00 71.49 L263.50 73.03 L264.00 74.75 L264.50 76.72 L265.00 78.99 L265.50 82.06 L266.00 86.94 L266.50 92.09 L267.00 95.77 L267.50 98.35 L268.00 100.55 L268.50 102.41 L269.00 104.00 L269.50 105.42 L270.00 106.74 L270.50 107.92 L271.00 108.96 L271.50 109.84 L272.00 110.52 L272.50 111.13 L273.00 111.70 L273.50 112.23 L274.00 112.72 L274.50 113.17 L275.00 113.57 L275.50 113.91 L276.00 114.20 L276.50 114.43 L277.00 114.60 L277.50 114.73 L278.00 114.85 L278.50 114.96 L279.00 115.05 L279.50 115.14 L280.00 115.23 L280.50 115.30 L281.00 115.37 L281.50 115.44 L282.00 115.50 L282.50 115.55 L283.00 115.61 L283.50 115.66 L284.00 115.71 L284.50 115.76 L285.00 115.81 L285.50 115.86 L286.00 115.92 L286.50 115.97 L287.00 116.03 L287.50 116.10 L288.00 116.17 L288.50 116.25 L289.00 116.33 L289.50 116.42 L290.00 116.52 L290.50 116.61 L291.00 116.71 L291.50 116.82 L292.00 116.92 L292.50 117.03 L293.00 117.13 L293.50 117.24 L294.00 117.35 L294.50 117.46 L295.00 117.57 L295.50 117.68 L296.00 117.79 L296.50 117.89 L297.00 118.00 L297.50 118.10 L298.00 118.21 L298.50 118.32 L299.00 118.42 L299.50 118.53 L300.00 118.63 L300.50 118.74 L301.00 118.85 L301.50 118.95 L302.00 119.06 L302.50 119.17 L303.00 119.27 L303.50 119.37 L304.00 119.48 L304.50 119.58 L305.00 119.68 L305.50 119.78 L306.00 119.88 L306.50 119.98 L307.00 120.07 L307.50 120.17 L308.00 120.26 L308.50 120.36 L309.00 120.45 L309.50 120.55 L310.00 120.64 L310.50 120.73 L311.00 120.82 L311.50 120.91 L312.00 121.00" fill="none" stroke="#7a3cb0" stroke-width="1.5" stroke-linejoin="round" />
<path d="M184.60 121.00 L185.10 121.00 L185.60 121.00 L186.10 121.00 L186.60 121.00 L187.10 121.00 L187.60 121.00 L188.10 121.00 L188.60 121.00 L189.10 121.00 L189.60 121.00 L190.10 121.00 L190.60 121.00 L191.10 121.00 L191.60 121.00 L192.10 121.00 L192.60 121.00 L193.10 121.00 L193.60 121.00 L194.10 121.00 L194.60 121.00 L195.10 121.00 L195.60 121.00 L196.10 121.00 L196.60 121.00 L197.10 121.00 L197.60 121.00 L198.10 121.00 L198.60 121.00 L199.10 121.00 L199.60 121.00 L200.10 121.00 L200.60 121.00 L201.10 121.00 L201.60 121.00 L202.10 121.00 L202.60 121.00 L203.10 121.00 L203.60 121.00 L204.10 121.00 L204.60 121.00 L205.10 121.00 L205.60 121.00 L206.10 121.00 L206.60 121.00 L207.10 121.00 L207.60 121.00 L208.10 121.00 L208.60 121.00 L209.10 121.00 L209.60 121.00 L210.10 121.00 L210.60 121.00 L211.10 121.00 L211.60 121.00 L212.10 121.00 L212.60 121.00 L213.10 121.00 L213.60 121.00 L214.10 121.00 L214.60 121.00 L215.10 121.00 L215.60 120.98 L216.10 120.95 L216.60 120.90 L217.10 120.82 L217.60 120.74 L218.10 120.64 L218.60 120.52 L219.10 120.40 L219.60 120.26 L220.10 120.11 L220.60 119.96 L221.10 119.80 L221.60 119.63 L222.10 119.47 L222.60 119.26 L223.10 119.01 L223.60 118.71 L224.10 118.38 L224.60 118.01 L225.10 117.60 L225.60 117.17 L226.10 116.71 L226.60 116.24 L227.10 115.74 L227.60 115.23 L228.10 114.71 L228.60 114.18 L229.10 113.65 L229.60 113.12 L230.10 112.59 L230.60 112.00 L231.10 111.35 L231.60 110.69 L232.10 110.05 L232.60 109.49 L233.10 108.98 L233.60 108.53 L234.10 108.15 L234.60 107.84 L235.10 107.60 L235.60 107.47 L236.10 107.40 L236.60 107.41 L237.10 107.46 L237.60 107.53 L238.10 107.62 L238.60 107.77 L239.10 107.94 L239.60 108.13 L240.10 108.35 L240.60 108.60 L241.10 108.87 L241.60 109.16 L242.10 109.48 L242.60 109.83 L243.10 110.30 L243.60 110.72 L244.10 110.90 L244.60 110.57 L245.10 109.68 L245.60 108.40 L246.10 106.87 L246.60 105.25 L247.10 103.69 L247.60 101.92 L248.10 99.89 L248.60 97.73 L249.10 95.59 L249.60 93.62 L250.10 91.83 L250.60 90.14 L251.10 88.50 L251.60 86.89 L252.10 85.25 L252.60 83.54 L253.10 81.71 L253.60 79.73 L254.10 77.53 L254.60 74.81 L255.10 71.85 L255.60 69.15 L256.10 66.78 L256.60 64.70 L257.10 62.89 L257.60 61.47 L258.10 60.34 L258.60 59.74 L259.10 59.41 L259.60 59.58 L260.10 60.11 L260.60 61.11 L261.10 62.52 L261.60 64.34 L262.10 66.45 L262.60 68.90 L263.10 71.64 L263.60 74.68 L264.10 77.74 L264.60 80.54 L265.10 83.29 L265.60 86.03 L266.10 88.57 L266.60 90.70 L267.10 92.27 L267.60 93.53 L268.10 94.66 L268.60 95.64 L269.10 96.47 L269.60 97.12 L270.10 97.58 L270.60 97.96 L271.10 98.30 L271.60 98.62 L272.10 98.90 L272.60 99.17 L273.10 99.40 L273.60 99.61 L274.10 99.79 L274.60 99.96 L275.10 100.10 L275.60 100.22 L276.10 100.32 L276.60 100.41 L277.10 100.49 L277.60 100.56 L278.10 100.63 L278.60 100.69 L279.10 100.74 L279.60 100.79 L280.10 100.84 L280.60 100.89 L281.10 100.93 L281.60 100.97 L282.10 101.02 L282.60 101.06 L283.10 101.11 L283.60 101.16 L284.10 101.22 L284.60 101.27 L285.10 101.34 L285.60 101.40 L286.10 101.46 L286.60 101.52 L287.10 101.59 L287.60 101.66 L288.10 101.76 L288.60 101.87 L289.10 102.03 L289.60 102.24 L290.10 102.47 L290.60 102.75 L291.10 103.05 L291.60 103.38 L292.10 103.73 L292.60 104.10 L293.10 104.48 L293.60 104.88 L294.10 105.28 L294.60 105.68 L295.10 106.08 L295.60 106.51 L296.10 106.99 L296.60 107.51 L297.10 108.06 L297.60 108.63 L298.10 109.23 L298.60 109.84 L299.10 110.46 L299.60 111.09 L300.10 111.71 L300.60 112.33 L301.10 112.93 L301.60 113.52 L302.10 114.07 L302.60 114.60 L303.10 115.10 L303.60 115.60 L304.10 116.13 L304.60 116.68 L305.10 117.22 L305.60 117.76 L306.10 118.29 L306.60 118.78 L307.10 119.23 L307.60 119.63 L308.10 119.97 L308.60 120.24 L309.10 120.42 L309.60 120.51 L310.10 120.57 L310.60 120.62 L311.10 120.67 L311.60 120.71 L312.10 120.76 L312.60 120.79 L313.10 120.83 L313.60 120.86 L314.10 120.89 L314.60 120.92 L315.10 120.94 L315.60 120.96 L316.10 120.97 L316.60 120.99 L317.10 120.99 L317.60 121.00 L318.10 121.00 L318.60 121.00 L319.10 121.00 L319.60 121.00 L320.10 121.00 L320.60 121.00 L321.10 121.00 L321.60 121.00 L322.10 121.00 L322.60 121.00 L323.10 121.00 L323.60 121.00 L324.10 121.00 L324.60 121.00 L325.10 121.00 L325.20 121.00" fill="none" stroke="#111" stroke-width="1.9" stroke-linejoin="round" />
<rect x="364.4" y="30.3" width="106" height="87.9" fill="none" stroke="#555" stroke-width="1"/>
<line x1="362.2" y1="118.2" x2="364.4" y2="118.2" stroke="#444" stroke-width="0.8"/>
<text x="361.8" y="120.60000000000001" font-family="Liberation Serif" font-size="7" fill="#333" stroke="#333" text-anchor="end" font-weight="normal" >200</text>
<line x1="362.2" y1="98.75" x2="364.4" y2="98.75" stroke="#444" stroke-width="0.8"/>
<text x="361.8" y="101.15" font-family="Liberation Serif" font-size="7" fill="#333" stroke="#333" text-anchor="end" font-weight="normal" >210</text>
<line x1="362.2" y1="79.30000000000001" x2="364.4" y2="79.30000000000001" stroke="#444" stroke-width="0.8"/>
<text x="361.8" y="81.70000000000002" font-family="Liberation Serif" font-size="7" fill="#333" stroke="#333" text-anchor="end" font-weight="normal" >220</text>
<line x1="362.2" y1="59.85" x2="364.4" y2="59.85" stroke="#444" stroke-width="0.8"/>
<text x="361.8" y="62.25" font-family="Liberation Serif" font-size="7" fill="#333" stroke="#333" text-anchor="end" font-weight="normal" >230</text>
<line x1="362.2" y1="40.400000000000006" x2="364.4" y2="40.400000000000006" stroke="#444" stroke-width="0.8"/>
<text x="361.8" y="42.800000000000004" font-family="Liberation Serif" font-size="7" fill="#333" stroke="#333" text-anchor="end" font-weight="normal" >240</text>
<line x1="364.4" y1="118.2" x2="364.4" y2="120" stroke="#444" stroke-width="0.8"/>
<text x="364.4" y="127.7" font-family="Liberation Serif" font-size="7.5" fill="#333" stroke="#333" text-anchor="middle" font-weight="normal" >2</text>
<line x1="374.0" y1="118.2" x2="374.0" y2="119.4" stroke="#444" stroke-width="0.8"/>
<line x1="383.59999999999997" y1="118.2" x2="383.59999999999997" y2="120" stroke="#444" stroke-width="0.8"/>
<text x="383.59999999999997" y="127.7" font-family="Liberation Serif" font-size="7.5" fill="#333" stroke="#333" text-anchor="middle" font-weight="normal" >4</text>
<line x1="393.2" y1="118.2" x2="393.2" y2="119.4" stroke="#444" stroke-width="0.8"/>
<line x1="402.79999999999995" y1="118.2" x2="402.79999999999995" y2="120" stroke="#444" stroke-width="0.8"/>
<text x="402.79999999999995" y="127.7" font-family="Liberation Serif" font-size="7.5" fill="#333" stroke="#333" text-anchor="middle" font-weight="normal" >6</text>
<line x1="412.4" y1="118.2" x2="412.4" y2="119.4" stroke="#444" stroke-width="0.8"/>
<line x1="422.0" y1="118.2" x2="422.0" y2="120" stroke="#444" stroke-width="0.8"/>
<text x="422.0" y="127.7" font-family="Liberation Serif" font-size="7.5" fill="#333" stroke="#333" text-anchor="middle" font-weight="normal" >8</text>
<line x1="431.59999999999997" y1="118.2" x2="431.59999999999997" y2="119.4" stroke="#444" stroke-width="0.8"/>
<line x1="441.2" y1="118.2" x2="441.2" y2="120" stroke="#444" stroke-width="0.8"/>
<text x="441.2" y="127.7" font-family="Liberation Serif" font-size="7.5" fill="#333" stroke="#333" text-anchor="middle" font-weight="normal" >10</text>
<line x1="450.79999999999995" y1="118.2" x2="450.79999999999995" y2="119.4" stroke="#444" stroke-width="0.8"/>
<line x1="460.4" y1="118.2" x2="460.4" y2="120" stroke="#444" stroke-width="0.8"/>
<text x="460.4" y="127.7" font-family="Liberation Serif" font-size="7.5" fill="#333" stroke="#333" text-anchor="middle" font-weight="normal" >12</text>
<path d="M374.30 108.50 L374.80 108.51 L375.30 108.52 L375.80 108.53 L376.30 108.54 L376.80 108.55 L377.30 108.56 L377.80 108.57 L378.30 108.57 L378.80 108.58 L379.30 108.58 L379.80 108.59 L380.30 108.59 L380.80 108.59 L381.30 108.60 L381.80 108.60 L382.30 108.60 L382.80 108.60 L383.30 108.60 L383.80 108.60 L384.30 108.60 L384.80 108.60 L385.30 108.60 L385.80 108.59 L386.30 108.59 L386.80 108.58 L387.30 108.57 L387.80 108.57 L388.30 108.56 L388.80 108.54 L389.30 108.53 L389.80 108.52 L390.30 108.51 L390.80 108.49 L391.30 108.47 L391.80 108.46 L392.30 108.44 L392.80 108.42 L393.30 108.40 L393.80 108.37 L394.30 108.32 L394.80 108.26 L395.30 108.17 L395.80 108.08 L396.30 107.96 L396.80 107.84 L397.30 107.70 L397.80 107.55 L398.30 107.40 L398.80 107.23 L399.30 107.06 L399.80 106.87 L400.30 106.68 L400.80 106.44 L401.30 106.15 L401.80 105.83 L402.30 105.46 L402.80 105.06 L403.30 104.63 L403.80 104.18 L404.30 103.70 L404.80 103.20 L405.30 102.69 L405.80 102.13 L406.30 101.53 L406.80 100.87 L407.30 100.13 L407.80 99.32 L408.30 98.43 L408.80 97.43 L409.30 96.27 L409.80 94.78 L410.30 93.00 L410.80 91.00 L411.30 88.87 L411.80 86.54 L412.30 83.65 L412.80 80.61 L413.30 77.89 L413.80 75.84 L414.30 74.15 L414.80 72.64 L415.30 71.19 L415.80 69.66 L416.30 67.95 L416.80 66.12 L417.30 64.22 L417.80 62.32 L418.30 60.45 L418.80 58.67 L419.30 57.01 L419.80 55.36 L420.30 53.74 L420.80 52.20 L421.30 50.76 L421.80 49.47 L422.30 48.32 L422.80 47.24 L423.30 46.21 L423.80 45.28 L424.30 44.45 L424.80 43.74 L425.30 43.16 L425.80 42.60 L426.30 42.09 L426.80 41.65 L427.30 41.29 L427.80 41.06 L428.30 40.93 L428.80 40.83 L429.30 40.73 L429.80 40.65 L430.30 40.57 L430.80 40.49 L431.30 40.43 L431.80 40.37 L432.30 40.32 L432.80 40.28 L433.30 40.25 L433.80 40.22 L434.30 40.21 L434.80 40.20 L435.30 40.20 L435.80 40.20 L436.30 40.20 L436.80 40.20 L437.30 40.20 L437.80 40.20 L438.30 40.20 L438.80 40.20 L439.30 40.20 L439.80 40.20 L440.30 40.20 L440.80 40.20 L441.30 40.20 L441.80 40.20 L442.30 40.20 L442.80 40.20 L443.30 40.20 L443.80 40.20 L444.30 40.20 L444.80 40.20 L445.30 40.20 L445.80 40.20 L446.30 40.20 L446.80 40.20 L447.30 40.20 L447.80 40.20 L448.30 40.20 L448.80 40.20 L449.30 40.20 L449.80 40.20 L450.30 40.20 L450.80 40.20 L451.30 40.20 L451.80 40.20 L452.30 40.20 L452.80 40.20 L453.30 40.20 L453.80 40.20 L454.30 40.20 L454.80 40.20 L455.30 40.20 L455.80 40.20 L456.30 40.20 L456.80 40.20 L457.30 40.20 L457.80 40.20 L458.30 40.20 L458.80 40.20 L459.30 40.20 L459.80 40.20 L460.30 40.20 L460.80 40.20 L461.30 40.20 L461.80 40.20 L462.00 40.20" fill="none" stroke="#3030d0" stroke-width="1.1" stroke-dasharray="2 1.2" stroke-linejoin="round" />
<path d="M374.30 112.40 L374.80 112.38 L375.30 112.37 L375.80 112.35 L376.30 112.33 L376.80 112.30 L377.30 112.28 L377.80 112.26 L378.30 112.23 L378.80 112.21 L379.30 112.18 L379.80 112.15 L380.30 112.12 L380.80 112.09 L381.30 112.06 L381.80 112.03 L382.30 112.00 L382.80 111.97 L383.30 111.93 L383.80 111.90 L384.30 111.87 L384.80 111.83 L385.30 111.80 L385.80 111.76 L386.30 111.72 L386.80 111.69 L387.30 111.65 L387.80 111.61 L388.30 111.56 L388.80 111.52 L389.30 111.47 L389.80 111.42 L390.30 111.37 L390.80 111.32 L391.30 111.26 L391.80 111.20 L392.30 111.14 L392.80 111.07 L393.30 111.00 L393.80 110.92 L394.30 110.83 L394.80 110.72 L395.30 110.60 L395.80 110.46 L396.30 110.32 L396.80 110.17 L397.30 110.01 L397.80 109.85 L398.30 109.68 L398.80 109.50 L399.30 109.32 L399.80 109.14 L400.30 108.96 L400.80 108.77 L401.30 108.59 L401.80 108.41 L402.30 108.24 L402.80 108.07 L403.30 107.90 L403.80 107.74 L404.30 107.58 L404.80 107.43 L405.30 107.27 L405.80 107.12 L406.30 106.96 L406.80 106.81 L407.30 106.64 L407.80 106.48 L408.30 106.30 L408.80 106.12 L409.30 105.93 L409.80 105.73 L410.30 105.51 L410.80 105.29 L411.30 105.05 L411.80 104.77 L412.30 104.40 L412.80 103.97 L413.30 103.50 L413.80 103.02 L414.30 102.56 L414.80 102.14 L415.30 101.78 L415.80 101.52 L416.30 101.38 L416.80 101.29 L417.30 101.22 L417.80 101.16 L418.30 101.11 L418.80 101.07 L419.30 101.03 L419.80 100.99 L420.30 100.94 L420.80 100.89 L421.30 100.83 L421.80 100.75 L422.30 100.67 L422.80 100.59 L423.30 100.49 L423.80 100.39 L424.30 100.29 L424.80 100.18 L425.30 100.06 L425.80 99.94 L426.30 99.82 L426.80 99.70 L427.30 99.58 L427.80 99.45 L428.30 99.32 L428.80 99.20 L429.30 99.07 L429.80 98.94 L430.30 98.82 L430.80 98.70 L431.30 98.58 L431.80 98.45 L432.30 98.32 L432.80 98.19 L433.30 98.04 L433.80 97.90 L434.30 97.76 L434.80 97.61 L435.30 97.46 L435.80 97.31 L436.30 97.17 L436.80 97.03 L437.30 96.89 L437.80 96.75 L438.30 96.62 L438.80 96.50 L439.30 96.39 L439.80 96.28 L440.30 96.19 L440.80 96.10 L441.30 96.03 L441.80 95.96 L442.30 95.90 L442.80 95.84 L443.30 95.79 L443.80 95.73 L444.30 95.68 L444.80 95.63 L445.30 95.58 L445.80 95.53 L446.30 95.49 L446.80 95.44 L447.30 95.40 L447.80 95.37 L448.30 95.33 L448.80 95.30 L449.30 95.27 L449.80 95.25 L450.30 95.23 L450.80 95.21 L451.30 95.19 L451.80 95.17 L452.30 95.16 L452.80 95.14 L453.30 95.13 L453.80 95.11 L454.30 95.10 L454.80 95.09 L455.30 95.08 L455.80 95.06 L456.30 95.05 L456.80 95.04 L457.30 95.03 L457.80 95.03 L458.30 95.02 L458.80 95.01 L459.30 95.01 L459.80 95.00 L460.30 95.00 L460.80 95.00 L461.00 95.00" fill="none" stroke="#222" stroke-width="1.0" stroke-dasharray="2 1.2" stroke-linejoin="round" />
<circle cx="374.3" cy="108.5" r="1.7" fill="#8c8cf0" stroke="#2828c8" stroke-width="0.8"/>
<circle cx="383.8" cy="108.5" r="1.7" fill="#8c8cf0" stroke="#2828c8" stroke-width="0.8"/>
<circle cx="393.3" cy="108.9" r="1.7" fill="#8c8cf0" stroke="#2828c8" stroke-width="0.8"/>
<circle cx="403" cy="104.9" r="1.7" fill="#8c8cf0" stroke="#2828c8" stroke-width="0.8"/>
<circle cx="411" cy="95.2" r="1.7" fill="#8c8cf0" stroke="#2828c8" stroke-width="0.8"/>
<circle cx="412.7" cy="79.1" r="1.7" fill="#8c8cf0" stroke="#2828c8" stroke-width="0.8"/>
<circle cx="413.6" cy="76.5" r="1.7" fill="#8c8cf0" stroke="#2828c8" stroke-width="0.8"/>
<circle cx="416.2" cy="72.1" r="1.7" fill="#8c8cf0" stroke="#2828c8" stroke-width="0.8"/>
<circle cx="421.6" cy="48" r="1.7" fill="#8c8cf0" stroke="#2828c8" stroke-width="0.8"/>
<circle cx="431.6" cy="40.1" r="1.7" fill="#8c8cf0" stroke="#2828c8" stroke-width="0.8"/>
<circle cx="441.4" cy="40.1" r="1.7" fill="#8c8cf0" stroke="#2828c8" stroke-width="0.8"/>
<circle cx="451" cy="40.1" r="1.7" fill="#8c8cf0" stroke="#2828c8" stroke-width="0.8"/>
<circle cx="460.6" cy="40.1" r="1.7" fill="#8c8cf0" stroke="#2828c8" stroke-width="0.8"/>
<circle cx="431.6" cy="43.8" r="1.4" fill="none" stroke="#e04848" stroke-width="0.8"/>
<circle cx="441.4" cy="43.8" r="1.4" fill="none" stroke="#e04848" stroke-width="0.8"/>
<circle cx="451" cy="43.8" r="1.4" fill="none" stroke="#e04848" stroke-width="0.8"/>
<circle cx="460.6" cy="43.8" r="1.4" fill="none" stroke="#e04848" stroke-width="0.8"/>
<circle cx="374.3" cy="112.4" r="1.5" fill="none" stroke="#222" stroke-width="0.8"/>
<circle cx="383.8" cy="111.9" r="1.5" fill="none" stroke="#222" stroke-width="0.8"/>
<circle cx="393.3" cy="111" r="1.5" fill="none" stroke="#222" stroke-width="0.8"/>
<circle cx="409.5" cy="105" r="1.5" fill="#333" stroke="#222" stroke-width="0.8"/>
<circle cx="411.4" cy="104.8" r="1.5" fill="#333" stroke="#222" stroke-width="0.8"/>
<circle cx="413" cy="104.6" r="1.5" fill="#333" stroke="#222" stroke-width="0.8"/>
<circle cx="416.2" cy="101.2" r="1.5" fill="#fff" stroke="#222" stroke-width="0.8"/>
<circle cx="421.8" cy="100.8" r="1.5" fill="#fff" stroke="#222" stroke-width="0.8"/>
<circle cx="431.6" cy="98.6" r="1.5" fill="#fff" stroke="#222" stroke-width="0.8"/>
<circle cx="441.4" cy="95" r="1.5" fill="#fff" stroke="#222" stroke-width="0.8"/>
<circle cx="451.1" cy="95" r="1.5" fill="#fff" stroke="#222" stroke-width="0.8"/>
<circle cx="460.8" cy="95" r="1.5" fill="#fff" stroke="#222" stroke-width="0.8"/>
<line x1="18.0" y1="256.3" x2="18.0" y2="258.1" stroke="#444" stroke-width="0.8"/>
<text x="18.0" y="267.1" font-family="Liberation Serif" font-size="7.2" fill="#333" stroke="#333" text-anchor="middle" font-weight="normal" >190</text>
<line x1="61.2" y1="256.3" x2="61.2" y2="258.1" stroke="#444" stroke-width="0.8"/>
<text x="61.2" y="267.1" font-family="Liberation Serif" font-size="7.2" fill="#333" stroke="#333" text-anchor="middle" font-weight="normal" >210</text>
<line x1="104.4" y1="256.3" x2="104.4" y2="258.1" stroke="#444" stroke-width="0.8"/>
<text x="104.4" y="267.1" font-family="Liberation Serif" font-size="7.2" fill="#333" stroke="#333" text-anchor="middle" font-weight="normal" >230</text>
<line x1="147.60000000000002" y1="256.3" x2="147.60000000000002" y2="258.1" stroke="#444" stroke-width="0.8"/>
<text x="147.60000000000002" y="267.1" font-family="Liberation Serif" font-size="7.2" fill="#333" stroke="#333" text-anchor="middle" font-weight="normal" >250</text>
<path d="M17.60 256.30 L18.10 256.10 L18.60 255.87 L19.10 255.60 L19.60 255.30 L20.10 254.97 L20.60 254.62 L21.10 254.24 L21.60 253.85 L22.10 253.43 L22.60 252.97 L23.10 252.46 L23.60 251.91 L24.10 251.32 L24.60 250.69 L25.10 250.02 L25.60 249.33 L26.10 248.61 L26.60 247.87 L27.10 247.10 L27.60 246.32 L28.10 245.53 L28.60 244.72 L29.10 243.90 L29.60 243.04 L30.10 242.13 L30.60 241.18 L31.10 240.19 L31.60 239.16 L32.10 238.11 L32.60 237.03 L33.10 235.93 L33.60 234.81 L34.10 233.69 L34.60 232.55 L35.10 231.40 L35.60 230.26 L36.10 229.12 L36.60 227.99 L37.10 226.87 L37.60 225.77 L38.10 224.68 L38.60 223.58 L39.10 222.44 L39.60 221.29 L40.10 220.13 L40.60 218.98 L41.10 217.86 L41.60 216.77 L42.10 215.72 L42.60 214.74 L43.10 213.82 L43.60 212.95 L44.10 212.13 L44.60 211.40 L45.10 210.77 L45.60 210.20 L46.10 209.71 L46.60 209.36 L47.10 209.12 L47.60 208.92 L48.10 208.81 L48.60 208.81 L49.10 208.88 L49.60 208.98 L50.10 209.12 L50.60 209.28 L51.10 209.47 L51.60 209.73 L52.10 210.08 L52.60 210.55 L53.10 211.17 L53.60 211.90 L54.10 212.71 L54.60 213.57 L55.10 214.45 L55.60 215.32 L56.10 216.17 L56.60 217.00 L57.10 217.85 L57.60 218.72 L58.10 219.60 L58.60 220.51 L59.10 221.43 L59.60 222.37 L60.10 223.34 L60.60 224.32 L61.10 225.33 L61.60 226.37 L62.10 227.43 L62.60 228.57 L63.10 229.78 L63.60 231.05 L64.10 232.36 L64.60 233.70 L65.10 235.05 L65.60 236.40 L66.10 237.74 L66.60 239.05 L67.10 240.32 L67.60 241.52 L68.10 242.66 L68.60 243.70 L69.10 244.68 L69.60 245.63 L70.10 246.55 L70.60 247.43 L71.10 248.28 L71.60 249.08 L72.10 249.82 L72.60 250.50 L73.10 251.12 L73.60 251.69 L74.10 252.24 L74.60 252.75 L75.10 253.24 L75.60 253.69 L76.10 254.11 L76.60 254.49 L77.10 254.84 L77.60 255.15 L78.10 255.44 L78.60 255.71 L79.10 255.95 L79.60 256.16 L80.00 256.30" fill="none" stroke="#111" stroke-width="1.0" stroke-linejoin="round" />
<path d="M17.60 256.30 L18.10 256.19 L18.60 256.07 L19.10 255.92 L19.60 255.76 L20.10 255.58 L20.60 255.38 L21.10 255.17 L21.60 254.95 L22.10 254.71 L22.60 254.46 L23.10 254.20 L23.60 253.93 L24.10 253.66 L24.60 253.37 L25.10 253.05 L25.60 252.71 L26.10 252.35 L26.60 251.97 L27.10 251.56 L27.60 251.14 L28.10 250.69 L28.60 250.22 L29.10 249.74 L29.60 249.23 L30.10 248.71 L30.60 248.17 L31.10 247.62 L31.60 247.05 L32.10 246.46 L32.60 245.87 L33.10 245.25 L33.60 244.63 L34.10 243.99 L34.60 243.34 L35.10 242.69 L35.60 242.02 L36.10 241.34 L36.60 240.66 L37.10 239.96 L37.60 239.26 L38.10 238.56 L38.60 237.82 L39.10 237.03 L39.60 236.21 L40.10 235.34 L40.60 234.44 L41.10 233.51 L41.60 232.55 L42.10 231.56 L42.60 230.54 L43.10 229.51 L43.60 228.46 L44.10 227.39 L44.60 226.31 L45.10 225.22 L45.60 224.13 L46.10 223.03 L46.60 221.93 L47.10 220.84 L47.60 219.74 L48.10 218.66 L48.60 217.59 L49.10 216.53 L49.60 215.49 L50.10 214.39 L50.60 213.22 L51.10 212.00 L51.60 210.77 L52.10 209.54 L52.60 208.36 L53.10 207.23 L53.60 206.19 L54.10 205.27 L54.60 204.50 L55.10 203.89 L55.60 203.37 L56.10 202.89 L56.60 202.47 L57.10 202.10 L57.60 201.81 L58.10 201.59 L58.60 201.41 L59.10 201.24 L59.60 201.11 L60.10 201.02 L60.60 201.00 L61.10 201.12 L61.60 201.36 L62.10 201.65 L62.60 202.10 L63.10 202.72 L63.60 203.43 L64.10 204.23 L64.60 205.17 L65.10 206.22 L65.60 207.39 L66.10 208.69 L66.60 210.08 L67.10 211.50 L67.60 212.91 L68.10 214.27 L68.60 215.63 L69.10 217.03 L69.60 218.45 L70.10 219.86 L70.60 221.24 L71.10 222.59 L71.60 223.88 L72.10 225.10 L72.60 226.22 L73.10 227.29 L73.60 228.35 L74.10 229.39 L74.60 230.39 L75.10 231.36 L75.60 232.28 L76.10 233.17 L76.60 234.00 L77.10 234.77 L77.60 235.48 L78.10 236.12 L78.60 236.73 L79.10 237.30 L79.60 237.84 L80.10 238.36 L80.60 238.86 L81.10 239.34 L81.60 239.79 L82.10 240.23 L82.60 240.65 L83.10 241.06 L83.60 241.45 L84.10 241.83 L84.60 242.21 L85.10 242.57 L85.60 242.93 L86.10 243.28 L86.60 243.61 L87.10 243.94 L87.60 244.27 L88.10 244.58 L88.60 244.88 L89.10 245.18 L89.60 245.47 L90.10 245.76 L90.60 246.04 L91.10 246.31 L91.60 246.58 L92.10 246.84 L92.60 247.10 L93.10 247.35 L93.60 247.60 L94.10 247.85 L94.60 248.09 L95.10 248.33 L95.60 248.57 L96.10 248.81 L96.60 249.04 L97.10 249.27 L97.60 249.49 L98.10 249.71 L98.60 249.93 L99.10 250.14 L99.60 250.35 L100.10 250.55 L100.60 250.76 L101.10 250.95 L101.60 251.14 L102.10 251.33 L102.60 251.51 L103.10 251.69 L103.60 251.87 L104.10 252.03 L104.60 252.20 L105.10 252.36 L105.60 252.53 L106.10 252.69 L106.60 252.85 L107.10 253.01 L107.60 253.17 L108.10 253.32 L108.60 253.47 L109.10 253.63 L109.60 253.78 L110.10 253.92 L110.60 254.07 L111.10 254.21 L111.60 254.35 L112.10 254.49 L112.60 254.63 L113.10 254.76 L113.60 254.89 L114.10 255.02 L114.60 255.15 L115.10 255.27 L115.60 255.39 L116.10 255.51 L116.60 255.62 L117.10 255.73 L117.60 255.84 L118.10 255.94 L118.60 256.04 L119.10 256.14 L119.60 256.23 L120.00 256.30" fill="none" stroke="#6a44b0" stroke-width="1.6" stroke-dasharray="3 1.8" stroke-linejoin="round" />
<path d="M17.60 256.30 L18.10 256.27 L18.60 256.21 L19.10 256.13 L19.60 256.03 L20.10 255.91 L20.60 255.78 L21.10 255.63 L21.60 255.46 L22.10 255.28 L22.60 255.08 L23.10 254.88 L23.60 254.66 L24.10 254.43 L24.60 254.20 L25.10 253.96 L25.60 253.71 L26.10 253.46 L26.60 253.21 L27.10 252.95 L27.60 252.67 L28.10 252.36 L28.60 252.03 L29.10 251.67 L29.60 251.29 L30.10 250.88 L30.60 250.44 L31.10 249.99 L31.60 249.51 L32.10 249.01 L32.60 248.49 L33.10 247.95 L33.60 247.40 L34.10 246.82 L34.60 246.23 L35.10 245.62 L35.60 245.00 L36.10 244.36 L36.60 243.71 L37.10 243.05 L37.60 242.37 L38.10 241.69 L38.60 240.99 L39.10 240.29 L39.60 239.58 L40.10 238.85 L40.60 238.10 L41.10 237.29 L41.60 236.43 L42.10 235.54 L42.60 234.60 L43.10 233.62 L43.60 232.62 L44.10 231.58 L44.60 230.51 L45.10 229.41 L45.60 228.30 L46.10 227.16 L46.60 226.01 L47.10 224.85 L47.60 223.68 L48.10 222.49 L48.60 221.31 L49.10 220.13 L49.60 218.94 L50.10 217.76 L50.60 216.52 L51.10 215.19 L51.60 213.80 L52.10 212.39 L52.60 210.98 L53.10 209.59 L53.60 208.25 L54.10 206.99 L54.60 205.83 L55.10 204.81 L55.60 203.89 L56.10 203.11 L56.60 202.42 L57.10 201.80 L57.60 201.30 L58.10 200.99 L58.60 200.73 L59.10 200.55 L59.60 200.51 L60.10 200.71 L60.60 201.08 L61.10 201.67 L61.60 202.56 L62.10 203.59 L62.60 204.88 L63.10 206.29 L63.60 207.83 L64.10 209.49 L64.60 211.18 L65.10 212.79 L65.60 214.28 L66.10 215.74 L66.60 217.17 L67.10 218.58 L67.60 219.95 L68.10 221.30 L68.60 222.61 L69.10 223.89 L69.60 225.12 L70.10 226.31 L70.60 227.46 L71.10 228.60 L71.60 229.74 L72.10 230.87 L72.60 231.97 L73.10 233.03 L73.60 234.03 L74.10 234.96 L74.60 235.81 L75.10 236.57 L75.60 237.22 L76.10 237.81 L76.60 238.36 L77.10 238.87 L77.60 239.35 L78.10 239.81 L78.60 240.24 L79.10 240.65 L79.60 241.04 L80.10 241.42 L80.60 241.79 L81.10 242.15 L81.60 242.50 L82.10 242.86 L82.60 243.21 L83.10 243.56 L83.60 243.90 L84.10 244.24 L84.60 244.57 L85.10 244.89 L85.60 245.20 L86.10 245.51 L86.60 245.81 L87.10 246.10 L87.60 246.39 L88.10 246.68 L88.60 246.95 L89.10 247.22 L89.60 247.49 L90.10 247.75 L90.60 248.00 L91.10 248.25 L91.60 248.50 L92.10 248.75 L92.60 248.99 L93.10 249.24 L93.60 249.48 L94.10 249.72 L94.60 249.96 L95.10 250.19 L95.60 250.42 L96.10 250.64 L96.60 250.85 L97.10 251.06 L97.60 251.26 L98.10 251.46 L98.60 251.64 L99.10 251.82 L99.60 251.99 L100.10 252.14 L100.60 252.29 L101.10 252.43 L101.60 252.55 L102.10 252.68 L102.60 252.80 L103.10 252.92 L103.60 253.03 L104.10 253.14 L104.60 253.25 L105.10 253.35 L105.60 253.45 L106.10 253.55 L106.60 253.64 L107.10 253.73 L107.60 253.82 L108.10 253.91 L108.60 254.00 L109.10 254.08 L109.60 254.17 L110.10 254.25 L110.60 254.33 L111.10 254.41 L111.60 254.48 L112.10 254.56 L112.60 254.64 L113.10 254.71 L113.60 254.79 L114.10 254.86 L114.60 254.94 L115.10 255.02 L115.60 255.09 L116.10 255.16 L116.60 255.24 L117.10 255.31 L117.60 255.38 L118.10 255.45 L118.60 255.52 L119.10 255.59 L119.60 255.65 L120.10 255.72 L120.60 255.78 L121.10 255.85 L121.60 255.91 L122.10 255.97 L122.60 256.03 L123.10 256.09 L123.60 256.15 L124.10 256.20 L124.60 256.26 L125.00 256.30" fill="none" stroke="#2828c0" stroke-width="1.6" stroke-dasharray="3 1.8" stroke-linejoin="round" />
<path d="M30.00 256.30 L30.50 256.28 L31.00 256.22 L31.50 256.12 L32.00 255.99 L32.50 255.82 L33.00 255.62 L33.50 255.39 L34.00 255.13 L34.50 254.85 L35.00 254.54 L35.50 254.20 L36.00 253.85 L36.50 253.48 L37.00 253.08 L37.50 252.68 L38.00 252.26 L38.50 251.83 L39.00 251.38 L39.50 250.93 L40.00 250.48 L40.50 250.01 L41.00 249.50 L41.50 248.92 L42.00 248.29 L42.50 247.60 L43.00 246.84 L43.50 246.04 L44.00 245.17 L44.50 244.24 L45.00 243.26 L45.50 242.21 L46.00 241.11 L46.50 239.95 L47.00 238.74 L47.50 237.47 L48.00 236.13 L48.50 234.75 L49.00 233.30 L49.50 231.80 L50.00 230.02 L50.50 227.79 L51.00 225.22 L51.50 222.41 L52.00 219.44 L52.50 216.42 L53.00 213.44 L53.50 210.60 L54.00 208.00 L54.50 205.53 L55.00 203.15 L55.50 201.07 L56.00 199.27 L56.50 197.84 L57.00 196.68 L57.50 196.03 L58.00 195.64 L58.50 195.63 L59.00 195.80 L59.50 196.05 L60.00 196.36 L60.50 196.83 L61.00 197.48 L61.50 198.23 L62.00 199.00 L62.50 199.82 L63.00 200.75 L63.50 201.76 L64.00 202.81 L64.50 203.89 L65.00 204.96 L65.50 206.01 L66.00 207.00 L66.50 207.94 L67.00 208.86 L67.50 209.76 L68.00 210.66 L68.50 211.55 L69.00 212.44 L69.50 213.34 L70.00 214.25 L70.50 215.19 L71.00 216.15 L71.50 217.14 L72.00 218.13 L72.50 219.13 L73.00 220.11 L73.50 221.07 L74.00 222.00 L74.50 222.90 L75.00 223.80 L75.50 224.68 L76.00 225.55 L76.50 226.41 L77.00 227.25 L77.50 228.08 L78.00 228.89 L78.50 229.68 L79.00 230.45 L79.50 231.22 L80.00 231.98 L80.50 232.73 L81.00 233.48 L81.50 234.21 L82.00 234.94 L82.50 235.65 L83.00 236.34 L83.50 237.01 L84.00 237.67 L84.50 238.29 L85.00 238.90 L85.50 239.48 L86.00 240.03 L86.50 240.57 L87.00 241.09 L87.50 241.60 L88.00 242.10 L88.50 242.58 L89.00 243.05 L89.50 243.50 L90.00 243.94 L90.50 244.36 L91.00 244.76 L91.50 245.14 L92.00 245.50 L92.50 245.85 L93.00 246.19 L93.50 246.52 L94.00 246.84 L94.50 247.15 L95.00 247.45 L95.50 247.75 L96.00 248.03 L96.50 248.31 L97.00 248.58 L97.50 248.84 L98.00 249.09 L98.50 249.33 L99.00 249.56 L99.50 249.79 L100.00 250.00 L100.50 250.21 L101.00 250.42 L101.50 250.63 L102.00 250.83 L102.50 251.04 L103.00 251.24 L103.50 251.44 L104.00 251.64 L104.50 251.84 L105.00 252.04 L105.50 252.23 L106.00 252.42 L106.50 252.61 L107.00 252.80 L107.50 252.98 L108.00 253.16 L108.50 253.34 L109.00 253.52 L109.50 253.69 L110.00 253.86 L110.50 254.02 L111.00 254.18 L111.50 254.34 L112.00 254.49 L112.50 254.64 L113.00 254.79 L113.50 254.93 L114.00 255.06 L114.50 255.19 L115.00 255.32 L115.50 255.44 L116.00 255.56 L116.50 255.67 L117.00 255.78 L117.50 255.88 L118.00 255.98 L118.50 256.07 L119.00 256.15 L119.50 256.23 L120.00 256.30" fill="none" stroke="#70a040" stroke-width="1.6" stroke-dasharray="3 1.8" stroke-linejoin="round" />
<path d="M30.00 256.30 L30.50 256.12 L31.00 255.93 L31.50 255.72 L32.00 255.50 L32.50 255.27 L33.00 255.02 L33.50 254.74 L34.00 254.47 L34.50 254.18 L35.00 253.90 L35.50 253.61 L36.00 253.31 L36.50 253.01 L37.00 252.70 L37.50 252.38 L38.00 252.05 L38.50 251.71 L39.00 251.36 L39.50 251.00 L40.00 250.63 L40.50 250.24 L41.00 249.84 L41.50 249.42 L42.00 248.98 L42.50 248.53 L43.00 248.06 L43.50 247.57 L44.00 247.05 L44.50 246.52 L45.00 245.96 L45.50 245.38 L46.00 244.78 L46.50 244.15 L47.00 243.50 L47.50 242.82 L48.00 242.11 L48.50 241.37 L49.00 240.60 L49.50 239.80 L50.00 238.81 L50.50 237.50 L51.00 235.92 L51.50 234.11 L52.00 232.11 L52.50 229.98 L53.00 227.75 L53.50 225.48 L54.00 223.21 L54.50 220.98 L55.00 218.83 L55.50 216.82 L56.00 214.99 L56.50 213.37 L57.00 211.87 L57.50 210.43 L58.00 209.06 L58.50 207.72 L59.00 206.42 L59.50 205.13 L60.00 203.84 L60.50 202.54 L61.00 201.20 L61.50 199.83 L62.00 198.40 L62.50 196.86 L63.00 195.24 L63.50 193.65 L64.00 192.18 L64.50 190.88 L65.00 189.67 L65.50 188.60 L66.00 187.69 L66.50 186.85 L67.00 186.16 L67.50 185.70 L68.00 185.36 L68.50 185.10 L69.00 185.00 L69.50 185.08 L70.00 185.29 L70.50 185.58 L71.00 185.92 L71.50 186.43 L72.00 187.10 L72.50 187.86 L73.00 188.67 L73.50 189.54 L74.00 190.52 L74.50 191.64 L75.00 192.92 L75.50 194.43 L76.00 196.55 L76.50 199.26 L77.00 202.26 L77.50 205.27 L78.00 208.00 L78.50 210.52 L79.00 213.03 L79.50 215.47 L80.00 217.76 L80.50 219.82 L81.00 221.68 L81.50 223.47 L82.00 225.19 L82.50 226.85 L83.00 228.43 L83.50 229.93 L84.00 231.34 L84.50 232.66 L85.00 233.87 L85.50 234.99 L86.00 236.00 L86.50 236.98 L87.00 237.93 L87.50 238.84 L88.00 239.71 L88.50 240.54 L89.00 241.33 L89.50 242.08 L90.00 242.79 L90.50 243.45 L91.00 244.06 L91.50 244.63 L92.00 245.14 L92.50 245.60 L93.00 246.03 L93.50 246.44 L94.00 246.85 L94.50 247.24 L95.00 247.62 L95.50 247.99 L96.00 248.34 L96.50 248.68 L97.00 249.02 L97.50 249.33 L98.00 249.64 L98.50 249.93 L99.00 250.21 L99.50 250.48 L100.00 250.74 L100.50 250.98 L101.00 251.21 L101.50 251.43 L102.00 251.63 L102.50 251.82 L103.00 252.00 L103.50 252.16 L104.00 252.32 L104.50 252.45 L105.00 252.59 L105.50 252.72 L106.00 252.85 L106.50 252.97 L107.00 253.09 L107.50 253.21 L108.00 253.32 L108.50 253.43 L109.00 253.54 L109.50 253.64 L110.00 253.75 L110.50 253.85 L111.00 253.94 L111.50 254.04 L112.00 254.13 L112.50 254.21 L113.00 254.30 L113.50 254.38 L114.00 254.46 L114.50 254.54 L115.00 254.62 L115.50 254.69 L116.00 254.76 L116.50 254.83 L117.00 254.90 L117.50 254.96 L118.00 255.02 L118.50 255.08 L119.00 255.14 L119.50 255.20 L120.00 255.25 L120.50 255.31 L121.00 255.36 L121.50 255.41 L122.00 255.45 L122.50 255.50 L123.00 255.55 L123.50 255.59 L124.00 255.63 L124.50 255.68 L125.00 255.72 L125.50 255.76 L126.00 255.80 L126.50 255.84 L127.00 255.88 L127.50 255.92 L128.00 255.96 L128.50 255.99 L129.00 256.03 L129.50 256.06 L130.00 256.09 L130.50 256.12 L131.00 256.15 L131.50 256.17 L132.00 256.20 L132.50 256.22 L133.00 256.24 L133.50 256.26 L134.00 256.27 L134.50 256.29 L135.00 256.30" fill="none" stroke="#e03030" stroke-width="1.6" stroke-dasharray="3 1.8" stroke-linejoin="round" />
<path d="M35.70 256.30 L36.20 256.26 L36.70 256.19 L37.20 256.10 L37.70 255.98 L38.20 255.83 L38.70 255.66 L39.20 255.48 L39.70 255.27 L40.20 255.05 L40.70 254.81 L41.20 254.56 L41.70 254.30 L42.20 254.03 L42.70 253.75 L43.20 253.46 L43.70 253.17 L44.20 252.88 L44.70 252.55 L45.20 252.18 L45.70 251.78 L46.20 251.33 L46.70 250.86 L47.20 250.35 L47.70 249.81 L48.20 249.25 L48.70 248.65 L49.20 248.03 L49.70 247.39 L50.20 246.73 L50.70 245.98 L51.20 245.14 L51.70 244.23 L52.20 243.26 L52.70 242.25 L53.20 241.21 L53.70 240.15 L54.20 239.08 L54.70 238.03 L55.20 237.00 L55.70 235.97 L56.20 234.92 L56.70 233.85 L57.20 232.77 L57.70 231.70 L58.20 230.63 L58.70 229.58 L59.20 228.55 L59.70 227.52 L60.20 226.50 L60.70 225.48 L61.20 224.45 L61.70 223.42 L62.20 222.35 L62.70 221.18 L63.20 219.99 L63.70 218.88 L64.20 217.94 L64.70 217.24 L65.20 216.65 L65.70 216.10 L66.20 215.61 L66.70 215.16 L67.20 214.75 L67.70 214.37 L68.20 214.01 L68.70 213.69 L69.20 213.38 L69.70 213.10 L70.20 212.85 L70.70 212.63 L71.20 212.42 L71.70 212.21 L72.20 212.01 L72.70 211.81 L73.20 211.60 L73.70 211.36 L74.20 211.11 L74.70 210.84 L75.20 210.58 L75.70 210.32 L76.20 210.05 L76.70 209.76 L77.20 209.42 L77.70 209.02 L78.20 208.56 L78.70 208.00 L79.20 207.04 L79.70 205.54 L80.20 203.76 L80.70 201.97 L81.20 200.40 L81.70 198.89 L82.20 197.39 L82.70 195.89 L83.20 194.40 L83.70 192.90 L84.20 191.38 L84.70 189.76 L85.20 188.09 L85.70 186.52 L86.20 185.16 L86.70 184.11 L87.20 183.26 L87.70 182.72 L88.20 182.32 L88.70 182.05 L89.20 182.01 L89.70 182.10 L90.20 182.28 L90.70 182.52 L91.20 182.81 L91.70 183.15 L92.20 183.68 L92.70 184.43 L93.20 185.36 L93.70 186.51 L94.20 188.30 L94.70 190.67 L95.20 193.40 L95.70 196.28 L96.20 199.11 L96.70 201.69 L97.20 204.17 L97.70 206.66 L98.20 209.15 L98.70 211.61 L99.20 214.04 L99.70 216.43 L100.20 218.83 L100.70 221.20 L101.20 223.52 L101.70 225.73 L102.20 227.83 L102.70 229.93 L103.20 232.02 L103.70 234.04 L104.20 235.95 L104.70 237.69 L105.20 239.21 L105.70 240.49 L106.20 241.70 L106.70 242.87 L107.20 244.00 L107.70 245.08 L108.20 246.09 L108.70 247.03 L109.20 247.89 L109.70 248.66 L110.20 249.32 L110.70 249.87 L111.20 250.30 L111.70 250.61 L112.20 250.87 L112.70 251.12 L113.20 251.34 L113.70 251.54 L114.20 251.72 L114.70 251.89 L115.20 252.04 L115.70 252.19 L116.20 252.32 L116.70 252.45 L117.20 252.57 L117.70 252.68 L118.20 252.80 L118.70 252.91 L119.20 253.02 L119.70 253.13 L120.20 253.24 L120.70 253.35 L121.20 253.45 L121.70 253.55 L122.20 253.65 L122.70 253.75 L123.20 253.84 L123.70 253.93 L124.20 254.02 L124.70 254.10 L125.20 254.18 L125.70 254.27 L126.20 254.34 L126.70 254.42 L127.20 254.49 L127.70 254.57 L128.20 254.64 L128.70 254.71 L129.20 254.77 L129.70 254.84 L130.20 254.90 L130.70 254.96 L131.20 255.02 L131.70 255.08 L132.20 255.14 L132.70 255.20 L133.20 255.26 L133.70 255.32 L134.20 255.37 L134.70 255.43 L135.20 255.48 L135.70 255.54 L136.20 255.59 L136.70 255.64 L137.20 255.69 L137.70 255.74 L138.20 255.79 L138.70 255.84 L139.20 255.88 L139.70 255.93 L140.20 255.97 L140.70 256.01 L141.20 256.05 L141.70 256.09 L142.20 256.13 L142.70 256.16 L143.20 256.19 L143.70 256.23 L144.20 256.26 L144.70 256.28 L145.00 256.30" fill="none" stroke="#1d7a2a" stroke-width="1.7" stroke-dasharray="3 1.8" stroke-linejoin="round" />
<path d="M35.70 256.30 L36.20 256.12 L36.70 255.93 L37.20 255.72 L37.70 255.49 L38.20 255.25 L38.70 254.99 L39.20 254.72 L39.70 254.44 L40.20 254.14 L40.70 253.84 L41.20 253.52 L41.70 253.20 L42.20 252.87 L42.70 252.52 L43.20 252.16 L43.70 251.78 L44.20 251.39 L44.70 250.98 L45.20 250.55 L45.70 250.10 L46.20 249.64 L46.70 249.15 L47.20 248.64 L47.70 248.11 L48.20 247.56 L48.70 246.98 L49.20 246.37 L49.70 245.74 L50.20 245.03 L50.70 244.25 L51.20 243.41 L51.70 242.50 L52.20 241.55 L52.70 240.57 L53.20 239.55 L53.70 238.52 L54.20 237.48 L54.70 236.43 L55.20 235.40 L55.70 234.35 L56.20 233.26 L56.70 232.13 L57.20 230.99 L57.70 229.83 L58.20 228.68 L58.70 227.54 L59.20 226.39 L59.70 225.22 L60.20 224.04 L60.70 222.88 L61.20 221.74 L61.70 220.63 L62.20 219.55 L62.70 218.46 L63.20 217.38 L63.70 216.33 L64.20 215.35 L64.70 214.47 L65.20 213.71 L65.70 213.01 L66.20 212.36 L66.70 211.78 L67.20 211.27 L67.70 210.83 L68.20 210.43 L68.70 210.06 L69.20 209.71 L69.70 209.40 L70.20 209.13 L70.70 208.91 L71.20 208.74 L71.70 208.61 L72.20 208.52 L72.70 208.44 L73.20 208.36 L73.70 208.25 L74.20 208.11 L74.70 207.89 L75.20 207.38 L75.70 206.61 L76.20 205.63 L76.70 204.51 L77.20 203.33 L77.70 202.15 L78.20 201.00 L78.70 199.70 L79.20 198.30 L79.70 196.86 L80.20 195.43 L80.70 193.94 L81.20 192.42 L81.70 190.88 L82.20 189.35 L82.70 187.86 L83.20 186.43 L83.70 184.94 L84.20 183.44 L84.70 182.00 L85.20 180.68 L85.70 179.55 L86.20 178.67 L86.70 177.85 L87.20 177.15 L87.70 176.66 L88.20 176.44 L88.70 176.32 L89.20 176.30 L89.70 176.35 L90.20 176.43 L90.70 176.57 L91.20 176.98 L91.70 177.64 L92.20 178.46 L92.70 179.41 L93.20 180.80 L93.70 182.59 L94.20 184.62 L94.70 186.74 L95.20 188.84 L95.70 191.06 L96.20 193.44 L96.70 195.92 L97.20 198.46 L97.70 201.05 L98.20 203.85 L98.70 206.77 L99.20 209.68 L99.70 212.44 L100.20 214.90 L100.70 217.02 L101.20 218.93 L101.70 220.72 L102.20 222.50 L102.70 224.37 L103.20 226.44 L103.70 228.92 L104.20 231.70 L104.70 234.49 L105.20 237.06 L105.70 239.11 L106.20 240.48 L106.70 241.63 L107.20 242.71 L107.70 243.71 L108.20 244.65 L108.70 245.51 L109.20 246.31 L109.70 247.03 L110.20 247.69 L110.70 248.28 L111.20 248.79 L111.70 249.25 L112.20 249.63 L112.70 249.94 L113.20 250.21 L113.70 250.44 L114.20 250.66 L114.70 250.85 L115.20 251.03 L115.70 251.19 L116.20 251.34 L116.70 251.48 L117.20 251.61 L117.70 251.74 L118.20 251.86 L118.70 251.99 L119.20 252.13 L119.70 252.26 L120.20 252.39 L120.70 252.53 L121.20 252.66 L121.70 252.78 L122.20 252.91 L122.70 253.04 L123.20 253.16 L123.70 253.28 L124.20 253.40 L124.70 253.51 L125.20 253.63 L125.70 253.74 L126.20 253.84 L126.70 253.95 L127.20 254.05 L127.70 254.15 L128.20 254.24 L128.70 254.33 L129.20 254.42 L129.70 254.50 L130.20 254.58 L130.70 254.66 L131.20 254.73 L131.70 254.80 L132.20 254.87 L132.70 254.93 L133.20 255.00 L133.70 255.07 L134.20 255.14 L134.70 255.20 L135.20 255.27 L135.70 255.33 L136.20 255.39 L136.70 255.45 L137.20 255.51 L137.70 255.57 L138.20 255.63 L138.70 255.68 L139.20 255.74 L139.70 255.79 L140.20 255.84 L140.70 255.89 L141.20 255.93 L141.70 255.98 L142.20 256.02 L142.70 256.06 L143.20 256.10 L143.70 256.13 L144.20 256.17 L144.70 256.20 L145.20 256.22 L145.70 256.25 L146.20 256.27 L146.70 256.29 L147.00 256.30" fill="none" stroke="#3a80c0" stroke-width="1.8" stroke-linejoin="round" />
<line x1="17.6" y1="256.3" x2="168.6" y2="256.3" stroke="#223" stroke-width="1.3"/>
<line x1="120" y1="256.0" x2="168.6" y2="256.0" stroke="#3a70a8" stroke-width="1.2"/>
<line x1="110.7" y1="184.6" x2="120.5" y2="184.6" stroke="#8cb0e8" stroke-width="1.5"/>
<text x="122.3" y="187.29999999999998" font-family="Liberation Serif" font-size="8" fill="#333" stroke="#333" text-anchor="start" font-weight="normal" >50 ppm</text>
<line x1="110.7" y1="192.26999999999998" x2="120.5" y2="192.26999999999998" stroke="#1d7a2a" stroke-width="1.5"/>
<text x="122.3" y="194.96999999999997" font-family="Liberation Serif" font-size="8" fill="#333" stroke="#333" text-anchor="start" font-weight="normal" >40 ppm</text>
<line x1="110.7" y1="199.94" x2="120.5" y2="199.94" stroke="#e03030" stroke-width="1.5"/>
<text x="122.3" y="202.64" font-family="Liberation Serif" font-size="8" fill="#333" stroke="#333" text-anchor="start" font-weight="normal" >30 ppm</text>
<line x1="110.7" y1="207.60999999999999" x2="120.5" y2="207.60999999999999" stroke="#a8d888" stroke-width="1.5"/>
<text x="122.3" y="210.30999999999997" font-family="Liberation Serif" font-size="8" fill="#333" stroke="#333" text-anchor="start" font-weight="normal" >20 ppm</text>
<line x1="110.7" y1="215.28" x2="120.5" y2="215.28" stroke="#2828c0" stroke-width="1.5"/>
<text x="122.3" y="217.98" font-family="Liberation Serif" font-size="8" fill="#333" stroke="#333" text-anchor="start" font-weight="normal" >10 ppm</text>
<line x1="110.7" y1="222.95" x2="120.5" y2="222.95" stroke="#7050b0" stroke-width="1.5"/>
<text x="122.3" y="225.64999999999998" font-family="Liberation Serif" font-size="8" fill="#333" stroke="#333" text-anchor="start" font-weight="normal" >2 ppm</text>
<line x1="110.7" y1="230.62" x2="120.5" y2="230.62" stroke="#222" stroke-width="1.5"/>
<text x="122.3" y="233.32" font-family="Liberation Serif" font-size="8" fill="#333" stroke="#333" text-anchor="start" font-weight="normal" >0 ppm</text>
<line x1="185.3" y1="255.2" x2="185.3" y2="257.0" stroke="#444" stroke-width="0.8"/>
<text x="185.3" y="265.7" font-family="Liberation Serif" font-size="7.4" fill="#333" stroke="#333" text-anchor="middle" font-weight="normal" >190</text>
<line x1="226.5" y1="255.2" x2="226.5" y2="257.0" stroke="#444" stroke-width="0.8"/>
<text x="226.5" y="265.7" font-family="Liberation Serif" font-size="7.4" fill="#333" stroke="#333" text-anchor="middle" font-weight="normal" >210</text>
<line x1="267.70000000000005" y1="255.2" x2="267.70000000000005" y2="257.0" stroke="#444" stroke-width="0.8"/>
<text x="267.70000000000005" y="265.7" font-family="Liberation Serif" font-size="7.4" fill="#333" stroke="#333" text-anchor="middle" font-weight="normal" >230</text>
<line x1="308.90000000000003" y1="255.2" x2="308.90000000000003" y2="257.0" stroke="#444" stroke-width="0.8"/>
<text x="308.90000000000003" y="265.7" font-family="Liberation Serif" font-size="7.4" fill="#333" stroke="#333" text-anchor="middle" font-weight="normal" >250</text>
<path d="M184.50 255.20 L185.00 255.20 L185.50 255.20 L186.00 255.20 L186.50 255.19 L187.00 255.19 L187.50 255.19 L188.00 255.18 L188.50 255.18 L189.00 255.17 L189.50 255.17 L190.00 255.16 L190.50 255.15 L191.00 255.14 L191.50 255.13 L192.00 255.12 L192.50 255.11 L193.00 255.10 L193.50 255.09 L194.00 255.08 L194.50 255.07 L195.00 255.06 L195.50 255.04 L196.00 255.03 L196.50 255.01 L197.00 255.00 L197.50 254.96 L198.00 254.91 L198.50 254.84 L199.00 254.75 L199.50 254.63 L200.00 254.51 L200.50 254.37 L201.00 254.21 L201.50 254.04 L202.00 253.86 L202.50 253.67 L203.00 253.47 L203.50 253.27 L204.00 253.06 L204.50 252.84 L205.00 252.63 L205.50 252.40 L206.00 252.18 L206.50 251.96 L207.00 251.75 L207.50 251.53 L208.00 251.32 L208.50 251.12 L209.00 250.92 L209.50 250.71 L210.00 250.51 L210.50 250.30 L211.00 250.09 L211.50 249.87 L212.00 249.64 L212.50 249.40 L213.00 249.15 L213.50 248.89 L214.00 248.61 L214.50 248.32 L215.00 248.01 L215.50 247.68 L216.00 247.33 L216.50 246.94 L217.00 246.50 L217.50 246.02 L218.00 245.49 L218.50 244.93 L219.00 244.34 L219.50 243.71 L220.00 243.05 L220.50 242.38 L221.00 241.68 L221.50 240.96 L222.00 240.22 L222.50 239.48 L223.00 238.73 L223.50 237.97 L224.00 237.21 L224.50 236.45 L225.00 235.70 L225.50 234.91 L226.00 234.10 L226.50 233.25 L227.00 232.38 L227.50 231.49 L228.00 230.58 L228.50 229.66 L229.00 228.72 L229.50 227.78 L230.00 226.84 L230.50 225.90 L231.00 224.97 L231.50 224.04 L232.00 223.09 L232.50 222.12 L233.00 221.15 L233.50 220.16 L234.00 219.18 L234.50 218.20 L235.00 217.24 L235.50 216.29 L236.00 215.36 L236.50 214.47 L237.00 213.61 L237.50 212.77 L238.00 211.95 L238.50 211.12 L239.00 210.28 L239.50 209.41 L240.00 208.50 L240.50 207.55 L241.00 206.56 L241.50 205.55 L242.00 204.51 L242.50 203.46 L243.00 202.39 L243.50 201.31 L244.00 200.22 L244.50 199.14 L245.00 198.05 L245.50 196.98 L246.00 195.92 L246.50 194.85 L247.00 193.74 L247.50 192.71 L248.00 191.87 L248.50 191.10 L249.00 190.46 L249.50 190.05 L250.00 189.73 L250.50 189.49 L251.00 189.40 L251.50 189.41 L252.00 189.45 L252.50 189.52 L253.00 189.60 L253.50 189.71 L254.00 189.84 L254.50 189.98 L255.00 190.14 L255.50 190.31 L256.00 190.50 L256.50 190.77 L257.00 191.18 L257.50 191.72 L258.00 192.38 L258.50 193.16 L259.00 194.03 L259.50 195.00 L260.00 196.04 L260.50 197.14 L261.00 198.30 L261.50 199.51 L262.00 200.84 L262.50 202.61 L263.00 204.72 L263.50 207.01 L264.00 209.32 L264.50 211.51 L265.00 213.45 L265.50 215.33 L266.00 217.20 L266.50 219.04 L267.00 220.84 L267.50 222.57 L268.00 224.22 L268.50 225.78 L269.00 227.23 L269.50 228.58 L270.00 229.93 L270.50 231.25 L271.00 232.54 L271.50 233.79 L272.00 234.99 L272.50 236.14 L273.00 237.23 L273.50 238.25 L274.00 239.18 L274.50 240.03 L275.00 240.78 L275.50 241.42 L276.00 242.02 L276.50 242.60 L277.00 243.16 L277.50 243.70 L278.00 244.22 L278.50 244.72 L279.00 245.20 L279.50 245.66 L280.00 246.10 L280.50 246.52 L281.00 246.92 L281.50 247.30 L282.00 247.66 L282.50 248.00 L283.00 248.32 L283.50 248.62 L284.00 248.90 L284.50 249.16 L285.00 249.39 L285.50 249.61 L286.00 249.80 L286.50 249.98 L287.00 250.16 L287.50 250.33 L288.00 250.49 L288.50 250.66 L289.00 250.81 L289.50 250.97 L290.00 251.12 L290.50 251.26 L291.00 251.40 L291.50 251.54 L292.00 251.67 L292.50 251.80 L293.00 251.92 L293.50 252.05 L294.00 252.16 L294.50 252.28 L295.00 252.39 L295.50 252.50 L296.00 252.60 L296.50 252.70 L297.00 252.80 L297.50 252.89 L298.00 252.98 L298.50 253.07 L299.00 253.16 L299.50 253.24 L300.00 253.32 L300.50 253.40 L301.00 253.48 L301.50 253.55 L302.00 253.62 L302.50 253.69 L303.00 253.75 L303.50 253.82 L304.00 253.88 L304.50 253.94 L305.00 254.00 L305.50 254.06 L306.00 254.11 L306.50 254.17 L307.00 254.23 L307.50 254.28 L308.00 254.34 L308.50 254.39 L309.00 254.44 L309.50 254.50 L310.00 254.55 L310.50 254.60 L311.00 254.65 L311.50 254.69 L312.00 254.74 L312.50 254.78 L313.00 254.83 L313.50 254.87 L314.00 254.91 L314.50 254.94 L315.00 254.98 L315.50 255.01 L316.00 255.04 L316.50 255.07 L317.00 255.10 L317.50 255.12 L318.00 255.14 L318.50 255.16 L319.00 255.18 L319.50 255.19 L320.00 255.20" fill="none" stroke="#5a3c9a" stroke-width="1.5" stroke-linejoin="round" />
<path d="M195.00 255.20 L195.50 255.19 L196.00 255.17 L196.50 255.13 L197.00 255.08 L197.50 255.01 L198.00 254.93 L198.50 254.84 L199.00 254.74 L199.50 254.63 L200.00 254.51 L200.50 254.39 L201.00 254.25 L201.50 254.11 L202.00 253.96 L202.50 253.81 L203.00 253.65 L203.50 253.49 L204.00 253.33 L204.50 253.17 L205.00 253.00 L205.50 252.82 L206.00 252.61 L206.50 252.38 L207.00 252.12 L207.50 251.84 L208.00 251.54 L208.50 251.23 L209.00 250.90 L209.50 250.56 L210.00 250.20 L210.50 249.84 L211.00 249.48 L211.50 249.11 L212.00 248.74 L212.50 248.37 L213.00 248.00 L213.50 247.64 L214.00 247.27 L214.50 246.91 L215.00 246.54 L215.50 246.16 L216.00 245.78 L216.50 245.38 L217.00 244.98 L217.50 244.55 L218.00 244.11 L218.50 243.66 L219.00 243.18 L219.50 242.67 L220.00 242.14 L220.50 241.59 L221.00 241.00 L221.50 240.35 L222.00 239.61 L222.50 238.80 L223.00 237.92 L223.50 236.99 L224.00 236.02 L224.50 235.02 L225.00 234.00 L225.50 232.98 L226.00 231.97 L226.50 230.97 L227.00 230.00 L227.50 229.06 L228.00 228.12 L228.50 227.18 L229.00 226.25 L229.50 225.31 L230.00 224.36 L230.50 223.40 L231.00 222.43 L231.50 221.44 L232.00 220.43 L232.50 219.39 L233.00 218.32 L233.50 217.22 L234.00 216.08 L234.50 214.87 L235.00 213.61 L235.50 212.31 L236.00 210.99 L236.50 209.64 L237.00 208.28 L237.50 206.93 L238.00 205.59 L238.50 204.28 L239.00 203.00 L239.50 201.72 L240.00 200.40 L240.50 199.08 L241.00 197.76 L241.50 196.47 L242.00 195.22 L242.50 194.05 L243.00 192.97 L243.50 192.00 L244.00 191.10 L244.50 190.24 L245.00 189.40 L245.50 188.61 L246.00 187.87 L246.50 187.18 L247.00 186.55 L247.50 185.99 L248.00 185.50 L248.50 185.07 L249.00 184.69 L249.50 184.39 L250.00 184.18 L250.50 183.98 L251.00 183.80 L251.50 183.65 L252.00 183.55 L252.50 183.50 L253.00 183.53 L253.50 183.64 L254.00 183.81 L254.50 184.03 L255.00 184.26 L255.50 184.54 L256.00 184.91 L256.50 185.39 L257.00 186.00 L257.50 186.97 L258.00 188.46 L258.50 190.35 L259.00 192.52 L259.50 194.86 L260.00 197.24 L260.50 199.56 L261.00 201.85 L261.50 204.36 L262.00 207.05 L262.50 209.85 L263.00 212.71 L263.50 215.58 L264.00 218.38 L264.50 221.07 L265.00 223.59 L265.50 225.88 L266.00 227.88 L266.50 229.79 L267.00 231.68 L267.50 233.53 L268.00 235.31 L268.50 237.00 L269.00 238.57 L269.50 240.00 L270.00 241.25 L270.50 242.30 L271.00 243.14 L271.50 243.76 L272.00 244.33 L272.50 244.87 L273.00 245.38 L273.50 245.86 L274.00 246.32 L274.50 246.74 L275.00 247.15 L275.50 247.52 L276.00 247.88 L276.50 248.22 L277.00 248.53 L277.50 248.83 L278.00 249.11 L278.50 249.37 L279.00 249.62 L279.50 249.85 L280.00 250.08 L280.50 250.29 L281.00 250.49 L281.50 250.69 L282.00 250.87 L282.50 251.06 L283.00 251.25 L283.50 251.43 L284.00 251.62 L284.50 251.80 L285.00 251.98 L285.50 252.15 L286.00 252.33 L286.50 252.50 L287.00 252.67 L287.50 252.83 L288.00 253.00 L288.50 253.15 L289.00 253.31 L289.50 253.46 L290.00 253.60 L290.50 253.74 L291.00 253.88 L291.50 254.01 L292.00 254.14 L292.50 254.26 L293.00 254.37 L293.50 254.48 L294.00 254.58 L294.50 254.67 L295.00 254.76 L295.50 254.84 L296.00 254.91 L296.50 254.98 L297.00 255.04 L297.50 255.08 L298.00 255.13 L298.50 255.16 L299.00 255.18 L299.50 255.20 L300.00 255.20" fill="none" stroke="#8a7a6a" stroke-width="1.4" stroke-dasharray="3 1.5" stroke-linejoin="round" />
<path d="M190.00 255.20 L190.50 255.19 L191.00 255.18 L191.50 255.15 L192.00 255.11 L192.50 255.07 L193.00 255.01 L193.50 254.95 L194.00 254.88 L194.50 254.80 L195.00 254.71 L195.50 254.62 L196.00 254.52 L196.50 254.41 L197.00 254.30 L197.50 254.18 L198.00 254.06 L198.50 253.94 L199.00 253.81 L199.50 253.68 L200.00 253.55 L200.50 253.41 L201.00 253.28 L201.50 253.14 L202.00 253.00 L202.50 252.85 L203.00 252.68 L203.50 252.50 L204.00 252.30 L204.50 252.08 L205.00 251.84 L205.50 251.60 L206.00 251.34 L206.50 251.07 L207.00 250.79 L207.50 250.51 L208.00 250.22 L208.50 249.92 L209.00 249.61 L209.50 249.31 L210.00 249.00 L210.50 248.69 L211.00 248.37 L211.50 248.05 L212.00 247.72 L212.50 247.38 L213.00 247.03 L213.50 246.67 L214.00 246.30 L214.50 245.92 L215.00 245.52 L215.50 245.12 L216.00 244.69 L216.50 244.25 L217.00 243.80 L217.50 243.32 L218.00 242.83 L218.50 242.32 L219.00 241.78 L219.50 241.23 L220.00 240.64 L220.50 239.99 L221.00 239.27 L221.50 238.50 L222.00 237.67 L222.50 236.80 L223.00 235.89 L223.50 234.95 L224.00 233.99 L224.50 233.00 L225.00 232.01 L225.50 231.00 L226.00 230.00 L226.50 228.97 L227.00 227.89 L227.50 226.76 L228.00 225.59 L228.50 224.40 L229.00 223.18 L229.50 221.95 L230.00 220.72 L230.50 219.49 L231.00 218.27 L231.50 217.08 L232.00 215.91 L232.50 214.78 L233.00 213.66 L233.50 212.55 L234.00 211.45 L234.50 210.36 L235.00 209.27 L235.50 208.20 L236.00 207.13 L236.50 206.08 L237.00 205.04 L237.50 204.01 L238.00 203.00 L238.50 201.98 L239.00 200.95 L239.50 199.91 L240.00 198.88 L240.50 197.86 L241.00 196.88 L241.50 195.94 L242.00 195.06 L242.50 194.24 L243.00 193.50 L243.50 192.81 L244.00 192.15 L244.50 191.51 L245.00 190.90 L245.50 190.32 L246.00 189.77 L246.50 189.26 L247.00 188.80 L247.50 188.38 L248.00 188.00 L248.50 187.68 L249.00 187.44 L249.50 187.26 L250.00 187.08 L250.50 186.93 L251.00 186.81 L251.50 186.73 L252.00 186.70 L252.50 186.74 L253.00 186.85 L253.50 187.01 L254.00 187.21 L254.50 187.42 L255.00 187.68 L255.50 188.03 L256.00 188.50 L256.50 189.13 L257.00 189.98 L257.50 191.01 L258.00 192.20 L258.50 193.52 L259.00 194.95 L259.50 196.45 L260.00 198.00 L260.50 199.75 L261.00 201.83 L261.50 204.15 L262.00 206.67 L262.50 209.31 L263.00 212.00 L263.50 214.69 L264.00 217.29 L264.50 219.75 L265.00 222.00 L265.50 224.17 L266.00 226.42 L266.50 228.69 L267.00 230.93 L267.50 233.09 L268.00 235.13 L268.50 236.99 L269.00 238.62 L269.50 239.97 L270.00 241.00 L270.50 241.83 L271.00 242.61 L271.50 243.36 L272.00 244.06 L272.50 244.73 L273.00 245.36 L273.50 245.96 L274.00 246.52 L274.50 247.05 L275.00 247.55 L275.50 248.01 L276.00 248.45 L276.50 248.86 L277.00 249.24 L277.50 249.59 L278.00 249.92 L278.50 250.22 L279.00 250.50 L279.50 250.76 L280.00 251.00 L280.50 251.23 L281.00 251.45 L281.50 251.67 L282.00 251.89 L282.50 252.10 L283.00 252.31 L283.50 252.51 L284.00 252.71 L284.50 252.91 L285.00 253.10 L285.50 253.28 L286.00 253.46 L286.50 253.63 L287.00 253.80 L287.50 253.95 L288.00 254.10 L288.50 254.24 L289.00 254.38 L289.50 254.50 L290.00 254.62 L290.50 254.72 L291.00 254.82 L291.50 254.91 L292.00 254.98 L292.50 255.05 L293.00 255.10 L293.50 255.14 L294.00 255.17 L294.50 255.19 L295.00 255.20" fill="none" stroke="#e060d0" stroke-width="1.4" stroke-dasharray="3 1.5" stroke-linejoin="round" />
<path d="M184.50 255.20 L185.00 254.20 L185.50 253.25 L186.00 252.50 L186.50 251.94 L187.00 251.44 L187.50 251.00 L188.00 250.59 L188.50 250.23 L189.00 249.89 L189.50 249.58 L190.00 249.28 L190.50 248.99 L191.00 248.69 L191.50 248.39 L192.00 248.08 L192.50 247.74 L193.00 247.37 L193.50 246.96 L194.00 246.50 L194.50 245.99 L195.00 245.44 L195.50 244.83 L196.00 244.18 L196.50 243.49 L197.00 242.75 L197.50 241.97 L198.00 241.15 L198.50 240.28 L199.00 239.38 L199.50 238.43 L200.00 237.45 L200.50 236.42 L201.00 235.32 L201.50 234.05 L202.00 232.61 L202.50 231.08 L203.00 229.49 L203.50 227.89 L204.00 226.34 L204.50 224.88 L205.00 223.53 L205.50 222.27 L206.00 221.04 L206.50 219.83 L207.00 218.59 L207.50 217.29 L208.00 215.90 L208.50 214.37 L209.00 212.65 L209.50 210.79 L210.00 208.86 L210.50 206.91 L211.00 205.00 L211.50 203.09 L212.00 201.09 L212.50 199.07 L213.00 197.06 L213.50 195.10 L214.00 193.25 L214.50 191.53 L215.00 190.00 L215.50 188.60 L216.00 187.25 L216.50 185.99 L217.00 184.84 L217.50 183.83 L218.00 183.00 L218.50 182.32 L219.00 181.83 L219.50 181.50 L220.00 181.21 L220.50 181.03 L221.00 181.01 L221.50 181.10 L222.00 181.26 L222.50 181.49 L223.00 181.74 L223.50 182.04 L224.00 182.50 L224.50 183.09 L225.00 183.81 L225.50 184.64 L226.00 185.57 L226.50 186.58 L227.00 187.67 L227.50 188.81 L228.00 190.00 L228.50 191.31 L229.00 192.82 L229.50 194.47 L230.00 196.23 L230.50 198.05 L231.00 199.90 L231.50 201.73 L232.00 203.50 L232.50 205.34 L233.00 207.35 L233.50 209.42 L234.00 211.42 L234.50 213.27 L235.00 214.84 L235.50 216.02 L236.00 216.86 L236.50 217.62 L237.00 218.31 L237.50 218.94 L238.00 219.51 L238.50 220.04 L239.00 220.53 L239.50 220.99 L240.00 221.41 L240.50 221.82 L241.00 222.21 L241.50 222.59 L242.00 222.97 L242.50 223.35 L243.00 223.75 L243.50 224.16 L244.00 224.59 L244.50 225.06 L245.00 225.56 L245.50 226.10 L246.00 226.69 L246.50 227.32 L247.00 227.98 L247.50 228.66 L248.00 229.33 L248.50 230.00 L249.00 230.64 L249.50 231.24 L250.00 231.80 L250.50 232.31 L251.00 232.80 L251.50 233.26 L252.00 233.70 L252.50 234.12 L253.00 234.53 L253.50 234.94 L254.00 235.33 L254.50 235.72 L255.00 236.12 L255.50 236.52 L256.00 236.92 L256.50 237.34 L257.00 237.78 L257.50 238.23 L258.00 238.70 L258.50 239.20 L259.00 239.75 L259.50 240.35 L260.00 241.01 L260.50 241.70 L261.00 242.43 L261.50 243.17 L262.00 243.93 L262.50 244.68 L263.00 245.43 L263.50 246.15 L264.00 246.84 L264.50 247.50 L265.00 248.10 L265.50 248.64 L266.00 249.11 L266.50 249.50 L267.00 249.80 L267.50 250.04 L268.00 250.27 L268.50 250.49 L269.00 250.69 L269.50 250.88 L270.00 251.06 L270.50 251.23 L271.00 251.39 L271.50 251.55 L272.00 251.69 L272.50 251.83 L273.00 251.96 L273.50 252.09 L274.00 252.21 L274.50 252.33 L275.00 252.44 L275.50 252.56 L276.00 252.67 L276.50 252.78 L277.00 252.89 L277.50 253.00 L278.00 253.11 L278.50 253.22 L279.00 253.33 L279.50 253.44 L280.00 253.55 L280.50 253.65 L281.00 253.75 L281.50 253.86 L282.00 253.95 L282.50 254.05 L283.00 254.15 L283.50 254.24 L284.00 254.33 L284.50 254.42 L285.00 254.50 L285.50 254.59 L286.00 254.67 L286.50 254.75 L287.00 254.82 L287.50 254.89 L288.00 254.96 L288.50 255.03 L289.00 255.09 L289.50 255.15 L290.00 255.20" fill="none" stroke="#e03030" stroke-width="1.4" stroke-dasharray="3 1.5" stroke-linejoin="round" />
<path d="M190.00 255.20 L190.50 254.91 L191.00 254.60 L191.50 254.25 L192.00 253.88 L192.50 253.48 L193.00 253.06 L193.50 252.62 L194.00 252.15 L194.50 251.67 L195.00 251.16 L195.50 250.64 L196.00 250.11 L196.50 249.56 L197.00 249.00 L197.50 248.42 L198.00 247.82 L198.50 247.19 L199.00 246.54 L199.50 245.86 L200.00 245.14 L200.50 244.39 L201.00 243.60 L201.50 242.78 L202.00 241.91 L202.50 241.00 L203.00 240.05 L203.50 239.05 L204.00 238.00 L204.50 236.85 L205.00 235.55 L205.50 234.12 L206.00 232.58 L206.50 230.95 L207.00 229.24 L207.50 227.48 L208.00 225.67 L208.50 223.84 L209.00 222.00 L209.50 220.08 L210.00 218.03 L210.50 215.87 L211.00 213.66 L211.50 211.42 L212.00 209.21 L212.50 207.06 L213.00 205.00 L213.50 202.99 L214.00 200.95 L214.50 198.92 L215.00 196.93 L215.50 195.01 L216.00 193.20 L216.50 191.52 L217.00 190.00 L217.50 188.60 L218.00 187.25 L218.50 185.99 L219.00 184.84 L219.50 183.83 L220.00 183.00 L220.50 182.30 L221.00 181.73 L221.50 181.35 L222.00 181.04 L222.50 180.78 L223.00 180.63 L223.50 180.61 L224.00 180.72 L224.50 180.91 L225.00 181.17 L225.50 181.45 L226.00 181.83 L226.50 182.35 L227.00 183.00 L227.50 183.79 L228.00 184.75 L228.50 185.88 L229.00 187.17 L229.50 188.61 L230.00 190.20 L230.50 191.94 L231.00 193.81 L231.50 195.92 L232.00 199.00 L232.50 202.78 L233.00 206.74 L233.50 210.33 L234.00 213.02 L234.50 214.80 L235.00 216.51 L235.50 218.11 L236.00 219.58 L236.50 220.86 L237.00 221.92 L237.50 222.71 L238.00 223.18 L238.50 223.29 L239.00 223.05 L239.50 222.51 L240.00 221.71 L240.50 220.70 L241.00 219.54 L241.50 218.27 L242.00 216.94 L242.50 215.60 L243.00 214.29 L243.50 213.08 L244.00 212.00 L244.50 210.96 L245.00 209.89 L245.50 208.88 L246.00 208.00 L246.50 207.29 L247.00 206.66 L247.50 206.20 L248.00 205.91 L248.50 205.69 L249.00 205.60 L249.50 205.74 L250.00 206.05 L250.50 206.51 L251.00 207.27 L251.50 208.17 L252.00 209.27 L252.50 210.53 L253.00 211.91 L253.50 213.45 L254.00 215.16 L254.50 217.12 L255.00 219.29 L255.50 221.54 L256.00 223.75 L256.50 225.80 L257.00 227.85 L257.50 230.00 L258.00 232.18 L258.50 234.35 L259.00 236.45 L259.50 238.43 L260.00 240.25 L260.50 241.85 L261.00 243.18 L261.50 244.20 L262.00 244.90 L262.50 245.53 L263.00 246.12 L263.50 246.67 L264.00 247.18 L264.50 247.66 L265.00 248.10 L265.50 248.51 L266.00 248.90 L266.50 249.26 L267.00 249.59 L267.50 249.91 L268.00 250.21 L268.50 250.50 L269.00 250.77 L269.50 251.04 L270.00 251.29 L270.50 251.55 L271.00 251.80 L271.50 252.05 L272.00 252.30 L272.50 252.54 L273.00 252.78 L273.50 253.01 L274.00 253.24 L274.50 253.45 L275.00 253.66 L275.50 253.87 L276.00 254.06 L276.50 254.24 L277.00 254.42 L277.50 254.58 L278.00 254.73 L278.50 254.87 L279.00 254.99 L279.50 255.10 L280.00 255.20" fill="none" stroke="#3535d0" stroke-width="1.4" stroke-dasharray="3 1.5" stroke-linejoin="round" />
<path d="M188.00 255.20 L188.50 254.81 L189.00 254.40 L189.50 253.98 L190.00 253.55 L190.50 253.09 L191.00 252.62 L191.50 252.15 L192.00 251.68 L192.50 251.19 L193.00 250.70 L193.50 250.19 L194.00 249.66 L194.50 249.11 L195.00 248.54 L195.50 247.94 L196.00 247.31 L196.50 246.65 L197.00 245.96 L197.50 245.21 L198.00 244.41 L198.50 243.56 L199.00 242.66 L199.50 241.71 L200.00 240.72 L200.50 239.69 L201.00 238.61 L201.50 237.51 L202.00 236.37 L202.50 235.20 L203.00 234.00 L203.50 232.73 L204.00 231.36 L204.50 229.91 L205.00 228.39 L205.50 226.82 L206.00 225.22 L206.50 223.61 L207.00 222.00 L207.50 220.38 L208.00 218.74 L208.50 217.06 L209.00 215.35 L209.50 213.61 L210.00 211.82 L210.50 210.00 L211.00 208.06 L211.50 205.97 L212.00 203.82 L212.50 201.67 L213.00 199.60 L213.50 197.69 L214.00 196.00 L214.50 194.48 L215.00 193.01 L215.50 191.61 L216.00 190.29 L216.50 189.05 L217.00 187.92 L217.50 186.90 L218.00 186.00 L218.50 185.17 L219.00 184.37 L219.50 183.61 L220.00 182.90 L220.50 182.27 L221.00 181.73 L221.50 181.30 L222.00 181.00 L222.50 180.77 L223.00 180.56 L223.50 180.37 L224.00 180.23 L224.50 180.13 L225.00 180.10 L225.50 180.17 L226.00 180.37 L226.50 180.64 L227.00 180.95 L227.50 181.38 L228.00 182.00 L228.50 182.85 L229.00 183.95 L229.50 185.27 L230.00 186.75 L230.50 188.34 L231.00 190.00 L231.50 191.92 L232.00 194.20 L232.50 196.68 L233.00 199.17 L233.50 201.50 L234.00 203.50 L234.50 205.26 L235.00 206.97 L235.50 208.62 L236.00 210.17 L236.50 211.61 L237.00 212.91 L237.50 214.05 L238.00 215.00 L238.50 215.82 L239.00 216.57 L239.50 217.27 L240.00 217.92 L240.50 218.53 L241.00 219.09 L241.50 219.63 L242.00 220.14 L242.50 220.63 L243.00 221.11 L243.50 221.57 L244.00 222.04 L244.50 222.51 L245.00 222.99 L245.50 223.48 L246.00 224.00 L246.50 224.52 L247.00 225.03 L247.50 225.54 L248.00 226.03 L248.50 226.51 L249.00 226.99 L249.50 227.47 L250.00 227.95 L250.50 228.42 L251.00 228.90 L251.50 229.38 L252.00 229.87 L252.50 230.36 L253.00 230.87 L253.50 231.38 L254.00 231.90 L254.50 232.44 L255.00 233.00 L255.50 233.58 L256.00 234.20 L256.50 234.84 L257.00 235.50 L257.50 236.19 L258.00 236.89 L258.50 237.61 L259.00 238.33 L259.50 239.05 L260.00 239.77 L260.50 240.49 L261.00 241.20 L261.50 241.89 L262.00 242.56 L262.50 243.22 L263.00 243.84 L263.50 244.44 L264.00 245.00 L264.50 245.52 L265.00 246.00 L265.50 246.45 L266.00 246.90 L266.50 247.35 L267.00 247.79 L267.50 248.22 L268.00 248.64 L268.50 249.05 L269.00 249.45 L269.50 249.84 L270.00 250.22 L270.50 250.58 L271.00 250.93 L271.50 251.26 L272.00 251.57 L272.50 251.86 L273.00 252.13 L273.50 252.39 L274.00 252.61 L274.50 252.82 L275.00 253.00 L275.50 253.17 L276.00 253.33 L276.50 253.50 L277.00 253.66 L277.50 253.81 L278.00 253.97 L278.50 254.11 L279.00 254.26 L279.50 254.39 L280.00 254.52 L280.50 254.64 L281.00 254.75 L281.50 254.85 L282.00 254.94 L282.50 255.01 L283.00 255.08 L283.50 255.13 L284.00 255.17 L284.50 255.19 L285.00 255.20" fill="none" stroke="#6a3aa0" stroke-width="1.4" stroke-dasharray="3 1.5" stroke-linejoin="round" />
<path d="M190.00 255.17 L190.50 255.17 L191.00 255.15 L191.50 255.14 L192.00 255.12 L192.50 255.09 L193.00 255.06 L193.50 255.01 L194.00 254.96 L194.50 254.88 L195.00 254.79 L195.50 254.68 L196.00 254.54 L196.50 254.37 L197.00 254.15 L197.50 253.89 L198.00 253.58 L198.50 253.20 L199.00 252.74 L199.50 252.20 L200.00 251.56 L200.50 250.81 L201.00 249.94 L201.50 248.92 L202.00 247.75 L202.50 246.42 L203.00 244.91 L203.50 243.20 L204.00 241.30 L204.50 239.18 L205.00 236.85 L205.50 234.29 L206.00 231.52 L206.50 228.53 L207.00 225.34 L207.50 221.96 L208.00 218.40 L208.50 214.70 L209.00 210.88 L209.50 206.98 L210.00 203.04 L210.50 199.09 L211.00 195.20 L211.50 191.40 L212.00 187.74 L212.50 184.29 L213.00 181.09 L213.50 178.18 L214.00 175.62 L214.50 173.44 L215.00 171.69 L215.50 170.39 L216.00 169.55 L216.50 169.21 L217.00 169.40 L217.50 170.19 L218.00 171.59 L218.50 173.55 L219.00 176.03 L219.50 178.99 L220.00 182.36 L220.50 186.08 L221.00 190.08 L221.50 194.29 L222.00 198.63 L222.50 203.04 L223.00 207.45 L223.50 211.80 L224.00 216.03 L224.50 220.11 L225.00 223.99 L225.50 227.63 L226.00 231.03 L226.50 234.16 L227.00 237.01 L227.50 239.59 L228.00 241.90 L228.50 243.95 L229.00 245.75 L229.50 247.32 L230.00 248.68 L230.50 249.84 L231.00 250.83 L231.50 251.66 L232.00 252.35 L232.50 252.92 L233.00 253.39 L233.50 253.78 L234.00 254.09 L234.50 254.34 L235.00 254.54 L235.50 254.69 L236.00 254.81 L236.50 254.91 L237.00 254.98 L237.50 255.04 L238.00 255.08 L238.50 255.11 L239.00 255.14 L239.50 255.15 L240.00 255.17 L240.50 255.18 L241.00 255.18 L241.50 255.19 L242.00 255.19 L242.50 255.19 L243.00 255.20 L243.50 255.20 L244.00 255.20 L244.50 255.20 L245.00 255.20" fill="none" stroke="#111" stroke-width="1.2"/>
<line x1="184.5" y1="255.2" x2="329" y2="255.2" stroke="#222" stroke-width="1.3"/>
<rect x="362.8" y="166.2" width="106.7" height="89.1" fill="none" stroke="#8a8a8a" stroke-width="1.7"/>
<line x1="361" y1="255.3" x2="362.8" y2="255.3" stroke="#666" stroke-width="0.8"/>
<line x1="361.8" y1="247.875" x2="362.8" y2="247.875" stroke="#666" stroke-width="0.8"/>
<line x1="361" y1="240.45000000000002" x2="362.8" y2="240.45000000000002" stroke="#666" stroke-width="0.8"/>
<line x1="361.8" y1="233.025" x2="362.8" y2="233.025" stroke="#666" stroke-width="0.8"/>
<line x1="361" y1="225.60000000000002" x2="362.8" y2="225.60000000000002" stroke="#666" stroke-width="0.8"/>
<line x1="361.8" y1="218.175" x2="362.8" y2="218.175" stroke="#666" stroke-width="0.8"/>
<line x1="361" y1="210.75" x2="362.8" y2="210.75" stroke="#666" stroke-width="0.8"/>
<line x1="361.8" y1="203.32500000000002" x2="362.8" y2="203.32500000000002" stroke="#666" stroke-width="0.8"/>
<line x1="361" y1="195.9" x2="362.8" y2="195.9" stroke="#666" stroke-width="0.8"/>
<line x1="361.8" y1="188.47500000000002" x2="362.8" y2="188.47500000000002" stroke="#666" stroke-width="0.8"/>
<line x1="361" y1="181.05" x2="362.8" y2="181.05" stroke="#666" stroke-width="0.8"/>
<line x1="361.8" y1="173.625" x2="362.8" y2="173.625" stroke="#666" stroke-width="0.8"/>
<line x1="361" y1="166.20000000000002" x2="362.8" y2="166.20000000000002" stroke="#666" stroke-width="0.8"/>
<text x="361" y="257.3" font-family="Liberation Serif" font-size="6" fill="#444" stroke="#444" text-anchor="end" font-weight="normal" >0.0</text>
<text x="361" y="242.45000000000002" font-family="Liberation Serif" font-size="6" fill="#444" stroke="#444" text-anchor="end" font-weight="normal" >0.5</text>
<text x="361" y="227.60000000000002" font-family="Liberation Serif" font-size="6" fill="#444" stroke="#444" text-anchor="end" font-weight="normal" >1.0</text>
<text x="361" y="212.75" font-family="Liberation Serif" font-size="6" fill="#444" stroke="#444" text-anchor="end" font-weight="normal" >1.5</text>
<text x="361" y="197.9" font-family="Liberation Serif" font-size="6" fill="#444" stroke="#444" text-anchor="end" font-weight="normal" >2.0</text>
<text x="361" y="183.05" font-family="Liberation Serif" font-size="6" fill="#444" stroke="#444" text-anchor="end" font-weight="normal" >2.5</text>
<text x="361" y="168.20000000000002" font-family="Liberation Serif" font-size="6" fill="#444" stroke="#444" text-anchor="end" font-weight="normal" >3.0</text>
<line x1="372.95" y1="255.3" x2="372.95" y2="257" stroke="#666" stroke-width="0.8"/>
<line x1="382.6" y1="255.3" x2="382.6" y2="257" stroke="#666" stroke-width="0.8"/>
<text x="382.6" y="265" font-family="Liberation Serif" font-size="6" fill="#444" stroke="#444" text-anchor="middle" font-weight="normal" >0.2</text>
<line x1="392.25" y1="255.3" x2="392.25" y2="257" stroke="#666" stroke-width="0.8"/>
<line x1="401.90000000000003" y1="255.3" x2="401.90000000000003" y2="257" stroke="#666" stroke-width="0.8"/>
<text x="401.90000000000003" y="265" font-family="Liberation Serif" font-size="6" fill="#444" stroke="#444" text-anchor="middle" font-weight="normal" >0.4</text>
<line x1="411.55" y1="255.3" x2="411.55" y2="257" stroke="#666" stroke-width="0.8"/>
<line x1="421.20000000000005" y1="255.3" x2="421.20000000000005" y2="257" stroke="#666" stroke-width="0.8"/>
<text x="421.20000000000005" y="265" font-family="Liberation Serif" font-size="6" fill="#444" stroke="#444" text-anchor="middle" font-weight="normal" >0.6</text>
<line x1="430.85" y1="255.3" x2="430.85" y2="257" stroke="#666" stroke-width="0.8"/>
<line x1="440.5" y1="255.3" x2="440.5" y2="257" stroke="#666" stroke-width="0.8"/>
<text x="440.5" y="265" font-family="Liberation Serif" font-size="6" fill="#444" stroke="#444" text-anchor="middle" font-weight="normal" >0.8</text>
<line x1="450.15000000000003" y1="255.3" x2="450.15000000000003" y2="257" stroke="#666" stroke-width="0.8"/>
<line x1="459.8" y1="255.3" x2="459.8" y2="257" stroke="#666" stroke-width="0.8"/>
<text x="459.8" y="265" font-family="Liberation Serif" font-size="6" fill="#444" stroke="#444" text-anchor="middle" font-weight="normal" >1.0</text>
<circle cx="365" cy="171.8" r="1.9" fill="none" stroke="#2424c8" stroke-width="1.2"/>
<circle cx="368" cy="175" r="1.9" fill="none" stroke="#2424c8" stroke-width="1.2"/>
<circle cx="373" cy="183.6" r="1.9" fill="none" stroke="#2424c8" stroke-width="1.2"/>
<circle cx="382.7" cy="211.4" r="1.9" fill="none" stroke="#2424c8" stroke-width="1.2"/>
<circle cx="391.6" cy="240.4" r="1.9" fill="none" stroke="#2424c8" stroke-width="1.2"/>
<circle cx="401.9" cy="241" r="1.9" fill="none" stroke="#2424c8" stroke-width="1.2"/>
<circle cx="411.5" cy="241.8" r="1.9" fill="none" stroke="#2424c8" stroke-width="1.2"/>
<circle cx="421.1" cy="244.9" r="1.9" fill="none" stroke="#2424c8" stroke-width="1.2"/>
<circle cx="431" cy="246.3" r="1.9" fill="none" stroke="#2424c8" stroke-width="1.2"/>
<circle cx="440.6" cy="247.3" r="1.9" fill="none" stroke="#2424c8" stroke-width="1.2"/>
<circle cx="450" cy="248" r="1.9" fill="none" stroke="#2424c8" stroke-width="1.2"/>
<circle cx="460.1" cy="248.6" r="1.9" fill="none" stroke="#2424c8" stroke-width="1.2"/>
<circle cx="363.3" cy="255.3" r="1" fill="#2424c8"/>
<text id="A" x="12.00" y="21.24" font-family="Liberation Sans" font-size="12.79" fill="#111" stroke="#111">A</text>
<text id="B" x="160.03" y="21.40" font-family="Liberation Sans" font-size="10.01" fill="#111" stroke="#111">B</text>
<text id="C" x="336.40" y="17.40" font-family="Liberation Sans" font-size="11.50" fill="#111" stroke="#111">C</text>
<text id="D" x="8.35" y="156.70" font-family="Liberation Sans" font-size="12.09" fill="#111" stroke="#111">D</text>
<text id="E" x="162.80" y="157.40" font-family="Liberation Sans" font-size="11.50" fill="#111" stroke="#111">E</text>
<text id="F" x="337.60" y="158.80" font-family="Liberation Sans" font-size="11.20" fill="#111" stroke="#111">F</text>
<text id="aF" transform="translate(348.81,213.80) rotate(-90)" font-family="Liberation Serif" font-size="14.89" fill="#222" stroke="#222" text-anchor="middle" style="stroke-width:0.15px"><tspan font-style="italic">A</tspan><tspan font-size="0.68em" dy="0.25em">210</tspan><tspan dy="-0.17em">/</tspan><tspan font-style="italic">A</tspan><tspan font-size="0.68em" dy="0.25em">220</tspan></text>
<text id="absA" transform="translate(20.05,66.85) rotate(-90)" font-family="Liberation Serif" font-size="12.61" fill="#222" stroke="#222" text-anchor="middle">Abs (a.u.)</text>
<text id="absB" transform="translate(173.46,71.95) rotate(-90)" font-family="Liberation Serif" font-size="12.42" fill="#222" stroke="#222" text-anchor="middle">Abs (a.u.)</text>
<text id="absD" transform="translate(18.43,204.75) rotate(-90)" font-family="Liberation Serif" font-size="12.97" fill="#222" stroke="#222" text-anchor="middle">Abs (a.u.)</text>
<text id="absE" transform="translate(174.47,208.25) rotate(-90)" font-family="Liberation Serif" font-size="12.35" fill="#222" stroke="#222" text-anchor="middle">Abs (a.u.)</text>
<text id="b12" x="292.21" y="102.21" font-family="Liberation Serif" font-size="12.57" fill="#111" stroke="#111">12</text>
<text id="b7" x="224.85" y="35.81" font-family="Liberation Serif" font-size="12.50" fill="#4a8a8a" stroke="#4a8a8a">7</text>
<text id="b8" x="232.00" y="69.00" font-family="Liberation Serif" font-size="14.68" fill="#3a3ac8" stroke="#3a3ac8">8</text>
<text id="b9" x="250.43" y="56.39" font-family="Liberation Serif" font-size="12.50" fill="#7040b0" stroke="#7040b0">9</text>
<text id="brij" x="25.80" y="168.76" font-family="Liberation Serif" font-size="11.01" fill="#333" stroke="#333" font-style="italic">Brij 35 (50 ppm)</text>
<text id="cF" x="389.99" y="275.01" font-family="Liberation Serif" font-size="10.76" fill="#222" stroke="#222" style="stroke-width:0.15px"><tspan font-style="italic">C</tspan><tspan font-size="0.68em" font-style="italic" dy="0.25em">DDA</tspan><tspan dy="-0.17em">/ </tspan><tspan font-style="italic">C</tspan><tspan font-size="0.68em" font-style="italic" dy="0.25em">total</tspan></text>
<text id="cddaE" x="267.20" y="168.20" font-family="Liberation Serif" font-size="11.18" fill="#8468bc" stroke="#8468bc"><tspan font-style="italic">C</tspan><tspan font-size="0.65em" dy="0.28em" font-style="italic">DDA</tspan><tspan dy="-0.182em">:</tspan><tspan font-style="italic">C</tspan><tspan font-size="0.65em" dy="0.28em" font-style="italic">Brij 35</tspan></text>
<text id="dda" x="120.37" y="173.80" font-family="Liberation Serif" font-size="10.71" fill="#333" stroke="#333" font-style="italic">DDA</text>
<text id="e0" x="186.12" y="170.19" font-family="Liberation Serif" font-size="9.15" fill="#222" stroke="#222">0:100</text>
<text id="e100" x="270.74" y="223.83" font-family="Liberation Serif" font-size="9.30" fill="#7050b0" stroke="#7050b0">100:0</text>
<text id="e2" x="188.54" y="200.24" font-family="Liberation Serif" font-size="8.98" fill="#e03030" stroke="#e03030">2:98</text>
<text id="e20" x="227.02" y="174.39" font-family="Liberation Serif" font-size="9.58" fill="#3a3acc" stroke="#3a3acc">20:80</text>
<text id="e50" x="260.63" y="189.96" font-family="Liberation Serif" font-size="10.34" fill="#e050e0" stroke="#e050e0">50:50</text>
<text id="e70" x="264.87" y="205.88" font-family="Liberation Serif" font-size="9.17" fill="#40a070" stroke="#40a070">70:30</text>
<text id="lamA" x="68.75" y="141.09" font-family="Liberation Serif" font-size="11.10" fill="#222" stroke="#222"><tspan font-style="italic">λ</tspan> (nm)</text>
<text id="lamB" x="226.45" y="143.69" font-family="Liberation Serif" font-size="11.89" fill="#222" stroke="#222"><tspan font-style="italic">λ</tspan> (nm)</text>
<text id="lamD" x="71.01" y="279.25" font-family="Liberation Serif" font-size="12.84" fill="#222" stroke="#222"><tspan font-style="italic">λ (nm)</tspan></text>
<text id="lamE" x="236.40" y="279.37" font-family="Liberation Serif" font-size="12.33" fill="#222" stroke="#222"><tspan font-style="italic">λ (nm)</tspan></text>
<text id="p100" x="431.14" y="55.38" font-family="Liberation Serif" font-size="9.12" fill="#e03c3c" stroke="#e03c3c" style="stroke-width:0.15px">100 ppm</text>
<text id="p20" x="429.41" y="110.56" font-family="Liberation Serif" font-size="9.68" fill="#222" stroke="#222" style="stroke-width:0.15px">20 ppm</text>
<text id="p200" x="388.58" y="41.83" font-family="Liberation Serif" font-size="8.73" fill="#3333cc" stroke="#3333cc" style="stroke-width:0.15px">200 ppm</text>
<text id="pH3" x="172.69" y="39.90" font-family="Liberation Serif" font-size="12.31" fill="#e03434" stroke="#e03434">pH=3</text>
<text id="pHC" x="411.76" y="141.74" font-family="Liberation Serif" font-size="9.55" fill="#222" stroke="#222">pH</text>
<text id="primary" transform="translate(347.44,78.95) rotate(-90)" font-family="Liberation Serif" font-size="8.62" fill="#333" stroke="#333" text-anchor="middle">Primary peak (<tspan font-style="italic">λ</tspan>), nm</text>
<text id="redshift" x="54.00" y="32.07" font-family="Liberation Serif" font-size="10.60" fill="#111" stroke="#111" font-style="italic">Red shift</text>
</svg>
</body></html>
